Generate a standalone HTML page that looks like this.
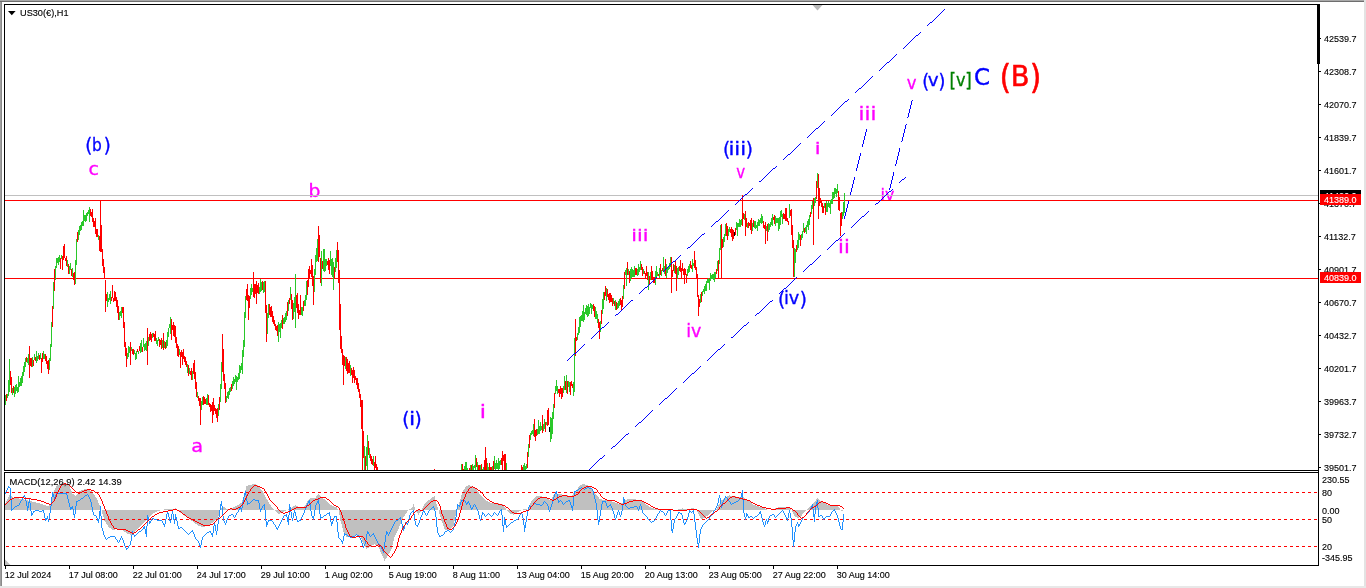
<!DOCTYPE html>
<html><head><meta charset="utf-8"><title>US30 H1</title>
<style>
html,body{margin:0;padding:0;background:#fff;overflow:hidden}
svg{display:block}
text{font-family:"Liberation Sans","DejaVu Sans",sans-serif}
.sm text{font-size:9px;fill:#000;stroke:#000;stroke-width:0.12px}
.lb text{font-family:"DejaVu Sans Condensed","DejaVu Sans","Liberation Sans",sans-serif}
</style></head>
<body>
<svg width="1366" height="588" viewBox="0 0 1366 588">
<rect width="1366" height="588" fill="#fff"/>
<!-- window edges -->
<g shape-rendering="crispEdges">
<rect x="0" y="0" width="1364" height="1" fill="#a9a9a9"/>
<rect x="0" y="1" width="1364" height="1" fill="#6e6e6e"/>
<rect x="0" y="2" width="1" height="584" fill="#a0a0a0"/>
<rect x="1" y="2" width="1" height="584" fill="#8a8a8a"/>
<rect x="1364" y="0" width="2" height="588" fill="#e3e3e3"/>
<rect x="0" y="586" width="1366" height="2" fill="#e8e8e8"/>
</g>
<defs>
<clipPath id="cm"><rect x="5" y="5" width="1313" height="465"/></clipPath>
<clipPath id="cd"><rect x="5" y="473" width="1313" height="92"/></clipPath>
</defs>
<!-- wave labels -->
<g class="lb">
<text x="0.00" y="0.00" font-size="19.34" fill="#0000ff" stroke="#0000ff" stroke-width="0.32" transform="translate(85.20 152.29) scale(1.034 1)">(</text>
<text x="0.00" y="0.00" font-size="16.96" fill="#0000ff" stroke="#0000ff" stroke-width="0.28" transform="translate(92.00 151.06) scale(1.012 1)">b</text>
<text x="0.00" y="0.00" font-size="19.34" fill="#0000ff" stroke="#0000ff" stroke-width="0.32" transform="translate(103.70 152.29) scale(1.034 1)">)</text>
<text x="0.00" y="0.00" font-size="16.95" fill="#ff00ff" stroke="#ff00ff" stroke-width="0.28" transform="translate(88.56 174.56) scale(1.238 1)">c</text>
<text x="0.00" y="0.00" font-size="16.84" fill="#ff00ff" stroke="#ff00ff" stroke-width="0.28" transform="translate(308.54 196.96) scale(1.240 1)">b</text>
<text x="0.00" y="0.00" font-size="17.97" fill="#ff00ff" stroke="#ff00ff" stroke-width="0.30" transform="translate(191.33 451.64) scale(1.191 1)">a</text>
<text x="0.00" y="0.00" font-size="19.89" fill="#0000ff" stroke="#0000ff" stroke-width="0.33" transform="translate(402.27 426.12) scale(1.028 1)">(</text>
<text x="0.00" y="0.00" font-size="17.82" fill="#0000ff" stroke="#0000ff" stroke-width="0.30" transform="translate(408.98 424.72) scale(1.400 1)">i</text>
<text x="0.00" y="0.00" font-size="19.89" fill="#0000ff" stroke="#0000ff" stroke-width="0.33" transform="translate(414.47 426.12) scale(1.028 1)">)</text>
<text x="0.00" y="0.00" font-size="17.82" fill="#ff00ff" stroke="#ff00ff" stroke-width="0.30" transform="translate(479.83 417.72) scale(1.400 1)">i</text>
<text x="0.00" y="0.00" font-size="16.67" fill="#ff00ff" stroke="#ff00ff" stroke-width="0.28" transform="translate(631.37 240.83) scale(1.373 1)">iii</text>
<text x="0.00" y="0.00" font-size="16.79" fill="#ff00ff" stroke="#ff00ff" stroke-width="0.28" transform="translate(686.25 337.43) scale(1.156 1)">iv</text>
<text x="0.00" y="0.00" font-size="20.00" fill="#0000ff" stroke="#0000ff" stroke-width="0.33" transform="translate(723.07 156.20) scale(1.023 1)">(</text>
<text x="0.00" y="0.00" font-size="17.56" fill="#0000ff" stroke="#0000ff" stroke-width="0.29" transform="translate(728.40 154.52) scale(1.351 1)">iii</text>
<text x="0.00" y="0.00" font-size="20.00" fill="#0000ff" stroke="#0000ff" stroke-width="0.33" transform="translate(745.67 156.20) scale(1.023 1)">)</text>
<text x="0.00" y="0.00" font-size="17.14" fill="#ff00ff" stroke="#ff00ff" stroke-width="0.29" transform="translate(736.17 178.43) scale(0.976 1)">v</text>
<text x="0.00" y="0.00" font-size="19.78" fill="#0000ff" stroke="#0000ff" stroke-width="0.33" transform="translate(778.07 306.13) scale(1.034 1)">(</text>
<text x="0.00" y="0.00" font-size="17.44" fill="#0000ff" stroke="#0000ff" stroke-width="0.29" transform="translate(783.92 304.43) scale(1.130 1)">iv</text>
<text x="0.00" y="0.00" font-size="19.78" fill="#0000ff" stroke="#0000ff" stroke-width="0.33" transform="translate(799.67 306.13) scale(1.034 1)">)</text>
<text x="0.00" y="0.00" font-size="16.67" fill="#ff00ff" stroke="#ff00ff" stroke-width="0.28" transform="translate(814.63 153.83) scale(1.400 1)">i</text>
<text x="0.00" y="0.00" font-size="17.56" fill="#ff00ff" stroke="#ff00ff" stroke-width="0.29" transform="translate(838.12 252.52) scale(1.340 1)">ii</text>
<text x="0.00" y="0.00" font-size="17.31" fill="#ff00ff" stroke="#ff00ff" stroke-width="0.29" transform="translate(858.60 120.33) scale(1.371 1)">iii</text>
<text x="0.00" y="0.00" font-size="16.67" fill="#ff00ff" stroke="#ff00ff" stroke-width="0.28" transform="translate(880.59 199.83) scale(1.059 1)">iv</text>
<text x="0.00" y="0.00" font-size="17.32" fill="#ff00ff" stroke="#ff00ff" stroke-width="0.29" transform="translate(906.73 89.43) scale(1.060 1)">v</text>
<text x="0.00" y="0.00" font-size="19.67" fill="#0000ff" stroke="#0000ff" stroke-width="0.33" transform="translate(922.13 87.95) scale(0.994 1)">(</text>
<text x="0.00" y="0.00" font-size="17.86" fill="#0000ff" stroke="#0000ff" stroke-width="0.30" transform="translate(927.79 86.12) scale(1.143 1)">v</text>
<text x="0.00" y="0.00" font-size="19.67" fill="#0000ff" stroke="#0000ff" stroke-width="0.33" transform="translate(938.53 87.95) scale(0.994 1)">)</text>
<text x="0.00" y="0.00" font-size="19.89" fill="#008000" stroke="#008000" stroke-width="0.33" transform="translate(949.50 87.02) scale(0.930 1)">[</text>
<text x="0.00" y="0.00" font-size="17.86" fill="#008000" stroke="#008000" stroke-width="0.30" transform="translate(955.94 85.52) scale(1.006 1)">v</text>
<text x="0.00" y="0.00" font-size="19.89" fill="#008000" stroke="#008000" stroke-width="0.33" transform="translate(965.22 87.02) scale(0.930 1)">]</text>
<text x="0.00" y="0.00" font-size="22.44" fill="#0000ff" stroke="#0000ff" stroke-width="0.37" transform="translate(973.98 85.25) scale(1.135 1)">C</text>
<text x="0.00" y="0.00" font-size="34.07" fill="#ff0000" stroke="#ff0000" stroke-width="0.57" transform="translate(999.77 89.13) scale(0.934 1)">(</text>
<text x="0.00" y="0.00" font-size="28.93" fill="#ff0000" stroke="#ff0000" stroke-width="0.48" transform="translate(1010.67 86.01) scale(1.051 1)">B</text>
<text x="0.00" y="0.00" font-size="34.07" fill="#ff0000" stroke="#ff0000" stroke-width="0.57" transform="translate(1030.09 89.13) scale(0.934 1)">)</text>
</g>
<!-- main chart content -->
<g clip-path="url(#cm)" shape-rendering="crispEdges">
<path d="M5 195.5H1318" stroke="#c0c0c0"/>
<path d="M5 200.5H1318M5 278.5H1318" stroke="#ff0000"/>
<path d="M5.5 395V405M7.5 394V398M8.5 380V396M9.5 359V392M12.5 388V395M14.5 387V397M15.5 385V394M16.5 384V391M17.5 387V393M18.5 376V392M19.5 382V387M20.5 378V386M21.5 376V386M22.5 372V383M23.5 366V376M24.5 362V372M25.5 358V367M27.5 358V363M28.5 354V365M32.5 357V367M34.5 354V360M36.5 351V363M37.5 356V361M38.5 353V359M40.5 353V359M43.5 351V359M44.5 354V359M49.5 358V370M50.5 344V361M51.5 322V347M53.5 282V309M55.5 266V280M56.5 258V268M57.5 258V263M58.5 257V265M59.5 255V262M61.5 255V259M67.5 260V267M69.5 266V274M70.5 263V270M72.5 268V277M75.5 260V284M76.5 239V265M78.5 230V240M79.5 226V235M80.5 225V231M81.5 222V230M82.5 221V226M83.5 210V226M84.5 215V221M85.5 215V222M86.5 213V221M87.5 212V216M88.5 210V214M89.5 207V222M98.5 235V240M107.5 292V307M108.5 298V302M109.5 294V300M110.5 291V304M119.5 312V320M120.5 311V316M121.5 307V318M127.5 353V359M128.5 346V357M129.5 347V353M131.5 347V351M134.5 350V354M135.5 353V360M136.5 351V359M138.5 351V354M140.5 343V353M141.5 340V352M143.5 338V347M144.5 344V351M145.5 343V350M146.5 341V351M148.5 337V346M152.5 333V338M156.5 338V344M157.5 340V346M158.5 337V341M162.5 340V348M164.5 341V348M166.5 340V348M167.5 332V346M168.5 328V337M169.5 324V328M170.5 317V334M179.5 349V355M187.5 364V373M189.5 368V374M192.5 371V380M197.5 392V398M201.5 401V410M202.5 397V405M206.5 398V405M207.5 394V405M218.5 404V416M220.5 384V402M221.5 362V389M226.5 396V402M227.5 392V398M228.5 391V399M229.5 388V395M230.5 387V392M232.5 381V389M233.5 377V386M234.5 379V384M235.5 375V382M236.5 376V390M237.5 377V382M238.5 373V380M239.5 365V379M240.5 366V373M241.5 363V370M242.5 350V374M243.5 340V357M244.5 312V347M245.5 296V318M250.5 288V299M251.5 284V295M252.5 288V292M259.5 287V294M260.5 279V292M261.5 282V291M263.5 282V293M264.5 281V292M267.5 313V334M268.5 304V318M278.5 322V342M279.5 324V332M280.5 323V338M281.5 320V328M283.5 318V324M284.5 317V324M285.5 313V322M286.5 311V320M288.5 300V311M290.5 287V300M293.5 303V319M294.5 297V312M295.5 274V328M301.5 307V315M302.5 307V316M304.5 300V306M305.5 295V306M306.5 281V300M314.5 269V292M315.5 255V275M316.5 248V262M317.5 239V261M321.5 251V286M323.5 249V271M324.5 249V272M325.5 259V271M326.5 259V266M330.5 251V266M331.5 259V275M332.5 258V277M333.5 262V290M335.5 258V272M336.5 250V268M345.5 357V369M350.5 365V376M364.5 446V470M366.5 447V466M367.5 435V470M369.5 448V458M373.5 456V466M461.5 464V470M464.5 466V470M465.5 462V470M466.5 462V470M467.5 468V470M470.5 465V470M472.5 464V470M473.5 466V470M474.5 465V468M475.5 455V470M477.5 462V470M480.5 465V470M482.5 469V470M483.5 467V470M487.5 463V470M488.5 467V470M492.5 466V470M494.5 456V469M495.5 463V470M496.5 460V469M497.5 463V469M498.5 458V470M499.5 461V469M500.5 460V465M506.5 463V470M523.5 465V470M524.5 463V470M525.5 466V470M526.5 464V469M528.5 444V457M530.5 433V440M531.5 431V435M532.5 430V434M533.5 424V436M537.5 429V435M538.5 420V434M539.5 426V434M540.5 422V431M541.5 426V430M543.5 424V431M544.5 419V429M546.5 422V425M550.5 417V442M551.5 418V439M552.5 412V434M553.5 404V419M555.5 386V394M556.5 380V391M557.5 386V394M563.5 386V393M564.5 376V390M566.5 375V393M568.5 381V387M569.5 382V392M573.5 382V396M574.5 338V392M577.5 333V340M578.5 327V335M579.5 317V333M580.5 316V327M581.5 315V321M582.5 311V321M583.5 305V322M584.5 312V320M585.5 308V314M586.5 305V315M587.5 306V317M588.5 304V316M589.5 307V314M590.5 303V308M591.5 304V314M592.5 305V309M595.5 307V319M596.5 311V319M597.5 314V323M600.5 321V332M602.5 299V314M603.5 292V309M606.5 288V301M613.5 298V304M615.5 300V310M617.5 303V309M618.5 301V308M619.5 299V306M623.5 285V299M625.5 270V275M626.5 268V286M628.5 269V275M630.5 269V281M631.5 267V278M632.5 269V277M633.5 270V277M634.5 266V277M637.5 269V276M638.5 264V275M639.5 267V272M640.5 261V270M643.5 269V274M648.5 272V290M650.5 272V280M655.5 271V285M656.5 266V277M657.5 272V276M659.5 268V278M661.5 270V276M663.5 257V272M664.5 266V274M666.5 264V278M667.5 267V273M668.5 266V270M669.5 263V269M670.5 257V267M674.5 265V273M677.5 268V279M678.5 267V275M687.5 269V276M688.5 266V273M689.5 264V272M692.5 259V272M693.5 263V266M700.5 294V303M702.5 291V296M703.5 289V292M704.5 286V294M705.5 284V291M706.5 281V291M707.5 279V283M708.5 278V283M709.5 279V290M710.5 273V281M711.5 275V279M712.5 274V279M713.5 274V280M714.5 272V282M715.5 272V278M717.5 261V271M719.5 248V264M720.5 225V250M723.5 237V247M724.5 234V242M725.5 224V236M728.5 229V236M729.5 227V232M736.5 222V230M737.5 223V236M738.5 223V227M739.5 219V227M740.5 220V227M741.5 219V225M744.5 214V220M747.5 223V228M752.5 223V231M754.5 221V228M755.5 221V229M756.5 225V228M757.5 222V231M758.5 219V226M759.5 220V226M760.5 218V223M761.5 214V224M762.5 216V223M766.5 226V231M768.5 223V232M769.5 224V230M770.5 222V227M771.5 218V225M772.5 214V226M775.5 216V226M776.5 218V223M777.5 218V223M778.5 218V231M779.5 217V229M780.5 211V225M781.5 210V217M782.5 214V224M789.5 204V218M794.5 248V277M795.5 249V263M797.5 240V250M798.5 232V248M799.5 234V240M801.5 234V240M802.5 231V238M803.5 223V232M805.5 227V232M806.5 225V234M807.5 221V227M808.5 219V230M809.5 215V225M811.5 205V214M812.5 201V209M814.5 198V206M815.5 197V203M817.5 173V188M824.5 203V208M826.5 201V212M827.5 203V212M828.5 201V207M829.5 203V208M830.5 200V214M831.5 199V204M832.5 192V204M833.5 192V199M834.5 188V198M835.5 188V194M836.5 189V197M837.5 184V193M842.5 212V219M843.5 202V216M844.5 193V213" stroke="#2ac82a" stroke-width="1" fill="none"/>
<path d="M6.5 394V401M10.5 371V385M11.5 377V393M13.5 386V393M26.5 357V362M29.5 346V378M30.5 358V366M31.5 358V367M33.5 360V366M35.5 357V361M39.5 355V360M41.5 358V373M42.5 353V362M45.5 354V361M46.5 356V364M47.5 361V369M48.5 360V374M52.5 306V327M54.5 269V291M60.5 258V269M62.5 256V270M63.5 246V260M64.5 244V258M65.5 258V261M66.5 256V266M68.5 264V274M71.5 269V276M73.5 273V280M74.5 272V285M77.5 232V242M90.5 209V216M91.5 212V217M92.5 209V222M93.5 218V227M94.5 221V227M95.5 218V234M96.5 229V237M97.5 229V237M99.5 236V251M100.5 200V252M101.5 225V252M102.5 249V266M103.5 259V273M104.5 267V279M105.5 280V312M106.5 294V301M111.5 297V301M112.5 285V298M113.5 298V302M114.5 291V301M115.5 292V301M116.5 297V307M117.5 300V313M118.5 306V320M122.5 307V313M123.5 307V328M124.5 322V347M125.5 342V356M126.5 348V367M130.5 342V365M132.5 349V354M133.5 349V355M137.5 349V352M139.5 346V351M142.5 347V352M147.5 328V365M149.5 334V341M150.5 332V340M151.5 334V342M153.5 333V337M154.5 334V341M155.5 331V341M159.5 339V347M160.5 340V345M161.5 338V349M163.5 333V350M165.5 342V349M171.5 319V340M172.5 325V330M173.5 322V336M174.5 325V337M175.5 326V343M176.5 337V348M177.5 344V356M178.5 346V357M180.5 352V368M181.5 350V357M182.5 352V365M183.5 349V359M184.5 356V362M185.5 357V365M186.5 361V367M188.5 365V376M190.5 371V375M191.5 368V380M193.5 363V374M194.5 360V379M195.5 372V389M196.5 382V397M198.5 396V401M199.5 398V406M200.5 398V425M203.5 396V405M204.5 397V404M205.5 399V404M208.5 395V405M209.5 403V407M210.5 404V412M211.5 405V411M212.5 402V423M213.5 398V415M214.5 405V411M215.5 408V414M216.5 409V418M217.5 408V422M219.5 397V410M222.5 334V372M223.5 349V381M224.5 374V389M225.5 383V403M231.5 384V391M246.5 289V300M247.5 284V301M248.5 295V320M249.5 296V308M253.5 272V297M254.5 284V298M255.5 284V294M256.5 281V304M257.5 285V293M258.5 283V294M262.5 281V290M265.5 281V313M266.5 305V342M269.5 304V315M270.5 307V317M271.5 306V317M272.5 311V322M273.5 316V324M274.5 320V326M275.5 324V330M276.5 326V331M277.5 325V336M282.5 315V329M287.5 302V316M289.5 298V304M291.5 294V309M292.5 300V320M296.5 295V308M297.5 293V313M298.5 304V319M299.5 310V315M300.5 295V315M303.5 301V311M307.5 280V295M308.5 269V287M309.5 266V278M310.5 270V274M311.5 259V277M312.5 265V286M313.5 276V305M318.5 226V262M319.5 235V257M320.5 258V283M322.5 261V269M327.5 261V265M328.5 258V270M329.5 260V274M334.5 267V279M337.5 242V262M338.5 250V283M339.5 270V330M340.5 304V349M341.5 336V353M342.5 349V365M343.5 355V385M344.5 356V366M346.5 357V371M347.5 359V374M348.5 363V373M349.5 361V373M351.5 368V375M352.5 370V383M353.5 367V378M354.5 370V383M355.5 376V380M356.5 378V385M357.5 378V389M358.5 383V392M359.5 389V398M360.5 394V407M361.5 400V429M362.5 400V470M363.5 431V458M365.5 456V470M368.5 441V455M370.5 454V461M371.5 456V464M372.5 459V465M374.5 462V470M375.5 456V468M376.5 464V470M377.5 467V470M434.5 469V470M462.5 464V470M463.5 469V470M469.5 468V470M471.5 465V470M476.5 458V467M478.5 465V470M479.5 465V470M481.5 464V470M484.5 460V470M485.5 447V470M486.5 458V470M489.5 463V470M490.5 467V470M491.5 467V470M493.5 461V470M501.5 458V465M502.5 451V470M503.5 455V461M504.5 454V470M505.5 454V470M521.5 465V470M522.5 467V470M527.5 452V468M529.5 435V448M534.5 419V437M535.5 430V441M536.5 429V436M542.5 415V433M545.5 422V432M547.5 410V426M548.5 408V425M554.5 393V408M558.5 389V393M559.5 389V397M560.5 386V394M561.5 388V399M562.5 388V397M565.5 381V390M567.5 381V394M570.5 382V395M571.5 381V386M572.5 384V388M575.5 319V356M576.5 337V341M593.5 304V311M594.5 306V317M598.5 319V328M599.5 322V339M601.5 310V324M604.5 292V300M605.5 286V296M607.5 289V297M608.5 294V300M609.5 293V303M610.5 293V302M611.5 295V302M612.5 298V306M614.5 301V306M616.5 302V310M620.5 298V305M621.5 300V310M622.5 296V307M624.5 272V289M627.5 262V275M629.5 271V283M635.5 268V275M636.5 268V275M641.5 264V270M642.5 267V276M644.5 271V274M645.5 273V279M646.5 266V276M647.5 272V280M649.5 276V284M651.5 266V280M652.5 271V280M653.5 277V283M654.5 277V283M658.5 274V276M660.5 264V275M662.5 268V271M665.5 259V276M671.5 257V293M672.5 270V277M673.5 264V271M675.5 260V274M676.5 266V291M679.5 266V271M680.5 260V272M681.5 268V279M682.5 263V271M683.5 269V275M684.5 268V284M685.5 269V275M686.5 274V283M690.5 261V268M691.5 265V269M694.5 251V268M695.5 260V270M696.5 267V278M697.5 274V297M698.5 295V316M699.5 299V307M701.5 292V302M716.5 269V274M718.5 260V279M721.5 224V279M722.5 239V248M726.5 223V236M727.5 226V240M730.5 229V233M731.5 227V237M732.5 229V241M733.5 230V239M735.5 228V235M742.5 195V226M743.5 213V219M745.5 211V236M746.5 218V227M748.5 222V228M749.5 223V226M750.5 220V230M751.5 218V234M753.5 220V227M763.5 221V228M764.5 225V229M765.5 222V244M767.5 224V241M773.5 217V220M774.5 215V224M783.5 213V219M784.5 214V219M785.5 208V221M786.5 208V221M787.5 218V222M788.5 221V225M790.5 210V216M791.5 209V235M792.5 225V248M793.5 240V277M796.5 245V252M800.5 235V246M804.5 228V233M810.5 212V217M813.5 198V245M816.5 181V199M818.5 174V219M819.5 188V206M820.5 198V203M821.5 201V207M822.5 203V213M823.5 206V213M825.5 203V215M838.5 191V210M839.5 197V211M840.5 213V236M841.5 212V226" stroke="#ff0000" stroke-width="1" fill="none"/>
<path d="M549.5 427V432M734.5 232V236" stroke="#000000" stroke-width="1" fill="none"/>

<path d="M812.5 5H822.5L817.5 10.5Z" fill="#b9b9b9" shape-rendering="auto"/>
<g stroke="#0000ff" stroke-width="1" fill="none">
<path d="M944 9.5h1M943 10.5h1M942 11.5h1M941 12.5h1M940 13.5h1M939 14.5h1M938 15.5h1M937 16.5h1M936 17.5h1M935 18.5h1M934 19.5h1M933 20.5h1M932 21.5h1M930 22.5h2M929 23.5h1M928 24.5h1M927 25.5h1M920 32.5h1M919 33.5h1M918 34.5h1M916 35.5h2M915 36.5h1M914 37.5h1M913 38.5h1M912 39.5h1M911 40.5h1M910 41.5h1M909 42.5h1M908 43.5h1M907 44.5h1M906 45.5h1M905 46.5h1M904 47.5h1M903 48.5h1M896 54.5h1M895 55.5h1M894 56.5h1M893 57.5h1M892 58.5h1M891 59.5h1M890 60.5h1M889 61.5h1M887 62.5h2M886 63.5h1M885 64.5h1M884 65.5h1M883 66.5h1M882 67.5h1M881 68.5h1M880 69.5h1M879 70.5h1M872 76.5h1M871 77.5h1M870 78.5h1M869 79.5h1M868 80.5h1M867 81.5h1M866 82.5h1M865 83.5h1M864 84.5h1M863 85.5h1M862 86.5h1M861 87.5h1M859 88.5h2M858 89.5h1M857 90.5h1M856 91.5h1M855 92.5h1M848 99.5h1M847 100.5h1M845 101.5h2M844 102.5h1M843 103.5h1M842 104.5h1M841 105.5h1M840 106.5h1M839 107.5h1M838 108.5h1M837 109.5h1M836 110.5h1M835 111.5h1M834 112.5h1M833 113.5h1M832 114.5h1M831 115.5h1M824 121.5h1M823 122.5h1M822 123.5h1M821 124.5h1M820 125.5h1M819 126.5h1M818 127.5h1M816 128.5h2M815 129.5h1M814 130.5h1M813 131.5h1M812 132.5h1M811 133.5h1M810 134.5h1M809 135.5h1M808 136.5h1M807 137.5h1M800 143.5h1M799 144.5h1M798 145.5h1M797 146.5h1M796 147.5h1M795 148.5h1M794 149.5h1M793 150.5h1M792 151.5h1M791 152.5h1M790 153.5h1M788 154.5h2M787 155.5h1M786 156.5h1M785 157.5h1M784 158.5h1M783 159.5h1M776 166.5h1M775 167.5h1M773 168.5h2M772 169.5h1M771 170.5h1M770 171.5h1M769 172.5h1M768 173.5h1M767 174.5h1M766 175.5h1M765 176.5h1M764 177.5h1M763 178.5h1M762 179.5h1M761 180.5h1M759 181.5h2M752 188.5h1M751 189.5h1M750 190.5h1M749 191.5h1M748 192.5h1M747 193.5h1M745 194.5h2M744 195.5h1M743 196.5h1M742 197.5h1M741 198.5h1M740 199.5h1M739 200.5h1M738 201.5h1M737 202.5h1M736 203.5h1M735 204.5h1M728 210.5h1M727 211.5h1M726 212.5h1M725 213.5h1M724 214.5h1M723 215.5h1M722 216.5h1M721 217.5h1M720 218.5h1M719 219.5h1M718 220.5h1M716 221.5h2M715 222.5h1M714 223.5h1M713 224.5h1M712 225.5h1M711 226.5h1M704 233.5h1M702 234.5h2M701 235.5h1M700 236.5h1M699 237.5h1M698 238.5h1M697 239.5h1M696 240.5h1M695 241.5h1M694 242.5h1M693 243.5h1M692 244.5h1M691 245.5h1M690 246.5h1M688 247.5h2M687 248.5h1M680 255.5h1M679 256.5h1M678 257.5h1M677 258.5h1M676 259.5h1M675 260.5h1M673 261.5h2M672 262.5h1M671 263.5h1M670 264.5h1M669 265.5h1M668 266.5h1M667 267.5h1M666 268.5h1M665 269.5h1M664 270.5h1M663 271.5h1M656 277.5h1M655 278.5h1M654 279.5h1M653 280.5h1M652 281.5h1M651 282.5h1M650 283.5h1M649 284.5h1M648 285.5h1M647 286.5h1M645 287.5h2M644 288.5h1M643 289.5h1M642 290.5h1M641 291.5h1M640 292.5h1M639 293.5h1M631 300.5h2M630 301.5h1M629 302.5h1M628 303.5h1M627 304.5h1M626 305.5h1M625 306.5h1M624 307.5h1M623 308.5h1M622 309.5h1M621 310.5h1M620 311.5h1M619 312.5h1M618 313.5h1M616 314.5h2M615 315.5h1M608 322.5h1M607 323.5h1M606 324.5h1M605 325.5h1M604 326.5h1M602 327.5h2M601 328.5h1M600 329.5h1M599 330.5h1M598 331.5h1M597 332.5h1M596 333.5h1M595 334.5h1M594 335.5h1M593 336.5h1M592 337.5h1M591 338.5h1M584 344.5h1M583 345.5h1M582 346.5h1M581 347.5h1M580 348.5h1M579 349.5h1M578 350.5h1M577 351.5h1M576 352.5h1M574 353.5h2M573 354.5h1M572 355.5h1M571 356.5h1M570 357.5h1M569 358.5h1M568 359.5h1M567 360.5h1"/>
<path d="M905 177.5h1M904 178.5h1M902 179.5h2M901 180.5h1M900 181.5h1M899 182.5h1M892 189.5h1M891 190.5h1M889 191.5h2M888 192.5h1M887 193.5h1M886 194.5h1M885 195.5h1M884 196.5h1M883 197.5h1M882 198.5h1M881 199.5h1M880 200.5h1M879 201.5h1M878 202.5h1M876 203.5h2M875 204.5h1M868 211.5h1M867 212.5h1M866 213.5h1M865 214.5h1M864 215.5h1M862 216.5h2M861 217.5h1M860 218.5h1M859 219.5h1M858 220.5h1M857 221.5h1M856 222.5h1M855 223.5h1M854 224.5h1M853 225.5h1M852 226.5h1M851 227.5h1M844 233.5h1M843 234.5h1M842 235.5h1M841 236.5h1M840 237.5h1M839 238.5h1M838 239.5h1M836 240.5h2M835 241.5h1M834 242.5h1M833 243.5h1M832 244.5h1M831 245.5h1M830 246.5h1M829 247.5h1M828 248.5h1M827 249.5h1M820 255.5h1M819 256.5h1M818 257.5h1M817 258.5h1M816 259.5h1M815 260.5h1M814 261.5h1M813 262.5h1M812 263.5h1M810 264.5h2M809 265.5h1M808 266.5h1M807 267.5h1M806 268.5h1M805 269.5h1M804 270.5h1M803 271.5h1M796 277.5h1M795 278.5h1M794 279.5h1M793 280.5h1M792 281.5h1M791 282.5h1M790 283.5h1M789 284.5h1M788 285.5h1M787 286.5h1M786 287.5h1M784 288.5h2M783 289.5h1M782 290.5h1M781 291.5h1M780 292.5h1M779 293.5h1M772 300.5h1M770 301.5h2M769 302.5h1M768 303.5h1M767 304.5h1M766 305.5h1M765 306.5h1M764 307.5h1M763 308.5h1M762 309.5h1M761 310.5h1M760 311.5h1M759 312.5h1M757 313.5h2M756 314.5h1M755 315.5h1M748 322.5h1M747 323.5h1M746 324.5h1M744 325.5h2M743 326.5h1M742 327.5h1M741 328.5h1M740 329.5h1M739 330.5h1M738 331.5h1M737 332.5h1M736 333.5h1M735 334.5h1M734 335.5h1M733 336.5h1M731 337.5h2M724 344.5h1M723 345.5h1M722 346.5h1M721 347.5h1M720 348.5h1M718 349.5h2M717 350.5h1M716 351.5h1M715 352.5h1M714 353.5h1M713 354.5h1M712 355.5h1M711 356.5h1M710 357.5h1M709 358.5h1M708 359.5h1M707 360.5h1M700 366.5h1M699 367.5h1M698 368.5h1M697 369.5h1M696 370.5h1M695 371.5h1M694 372.5h1M692 373.5h2M691 374.5h1M690 375.5h1M689 376.5h1M688 377.5h1M687 378.5h1M686 379.5h1M685 380.5h1M684 381.5h1M683 382.5h1M676 388.5h1M675 389.5h1M674 390.5h1M673 391.5h1M672 392.5h1M671 393.5h1M670 394.5h1M669 395.5h1M668 396.5h1M667 397.5h1M665 398.5h2M664 399.5h1M663 400.5h1M662 401.5h1M661 402.5h1M660 403.5h1M659 404.5h1M652 410.5h1M651 411.5h1M650 412.5h1M649 413.5h1M648 414.5h1M647 415.5h1M646 416.5h1M645 417.5h1M644 418.5h1M643 419.5h1M642 420.5h1M641 421.5h1M639 422.5h2M638 423.5h1M637 424.5h1M636 425.5h1M635 426.5h1M628 433.5h1M626 434.5h2M625 435.5h1M624 436.5h1M623 437.5h1M622 438.5h1M621 439.5h1M620 440.5h1M619 441.5h1M618 442.5h1M617 443.5h1M616 444.5h1M615 445.5h1M613 446.5h2M612 447.5h1M611 448.5h1M604 455.5h1M603 456.5h1M602 457.5h1M600 458.5h2M599 459.5h1M598 460.5h1M597 461.5h1M596 462.5h1M595 463.5h1M594 464.5h1M593 465.5h1M592 466.5h1M591 467.5h1M590 468.5h1M589 469.5h1M587 470.5h2"/>
<path d="M844.5 216v3M845.5 212v4M846.5 208v4M847.5 204v4M848.5 201v3M850.5 192v3M851.5 188v4M852.5 184v4M853.5 180v4M854.5 177v3M856.5 168v3M857.5 164v4M858.5 160v4M859.5 156v4M860.5 153v3M862.5 144v3M863.5 140v4M864.5 136v4M865.5 132v4M866.5 129v3"/>
<path d="M889.5 188v2M890.5 184v4M891.5 180v4M892.5 176v4M893.5 172v4M895.5 164v2M896.5 160v4M897.5 156v4M898.5 152v4M899.5 148v4M901.5 141v1M902.5 137v4M903.5 133v4M904.5 129v4M905.5 125v4M906.5 124v1M907.5 117v1M908.5 113v4M909.5 109v4M910.5 105v4M911.5 101v4M912.5 100v1"/>
</g>
</g>
<!-- MACD panel -->
<g clip-path="url(#cd)">
<path d="M5 510 L5 502.8 L6 502.8 L6 500.9 L7 500.9 L7 498.9 L8 498.9 L8 496.9 L9 496.9 L9 495.0 L10 495.0 L10 495.7 L11 495.7 L11 496.4 L12 496.4 L12 497.1 L13 497.1 L13 497.8 L14 497.8 L14 497.9 L15 497.9 L15 498.0 L16 498.0 L16 498.1 L17 498.1 L17 498.3 L18 498.3 L18 498.4 L19 498.4 L19 498.5 L20 498.5 L20 498.6 L21 498.6 L21 498.8 L22 498.8 L22 499.1 L23 499.1 L23 499.3 L24 499.3 L24 499.6 L25 499.6 L25 499.8 L26 499.8 L26 500.0 L27 500.0 L27 500.3 L28 500.3 L28 500.5 L29 500.5 L29 500.8 L30 500.8 L30 501.0 L31 501.0 L31 501.3 L32 501.3 L32 501.5 L33 501.5 L33 501.8 L34 501.8 L34 502.1 L35 502.1 L35 502.4 L36 502.4 L36 502.6 L37 502.6 L37 502.9 L38 502.9 L38 503.2 L39 503.2 L39 503.4 L40 503.4 L40 503.7 L41 503.7 L41 504.0 L42 504.0 L42 504.4 L43 504.4 L43 504.7 L44 504.7 L44 505.0 L45 505.0 L45 505.3 L46 505.3 L46 505.7 L47 505.7 L47 506.0 L48 506.0 L48 505.7 L49 505.7 L49 505.3 L50 505.3 L50 505.0 L51 505.0 L51 500.7 L52 500.7 L52 496.3 L53 496.3 L53 492.0 L54 492.0 L54 490.0 L55 490.0 L55 488.0 L56 488.0 L56 486.0 L57 486.0 L57 485.4 L58 485.4 L58 484.9 L59 484.9 L59 484.3 L60 484.3 L60 483.7 L61 483.7 L61 483.2 L62 483.2 L62 482.6 L63 482.6 L63 482.8 L64 482.8 L64 483.1 L65 483.1 L65 483.3 L66 483.3 L66 483.5 L67 483.5 L67 483.8 L68 483.8 L68 484.0 L69 484.0 L69 486.4 L70 486.4 L70 488.8 L71 488.8 L71 491.1 L72 491.1 L72 493.5 L73 493.5 L73 494.3 L74 494.3 L74 495.2 L75 495.2 L75 496.0 L76 496.0 L76 494.8 L77 494.8 L77 493.5 L78 493.5 L78 492.2 L79 492.2 L79 491.0 L80 491.0 L80 490.6 L81 490.6 L81 490.3 L82 490.3 L82 489.9 L83 489.9 L83 489.6 L84 489.6 L84 489.2 L85 489.2 L85 488.9 L86 488.9 L86 488.5 L87 488.5 L87 489.1 L88 489.1 L88 489.7 L89 489.7 L89 490.2 L90 490.2 L90 490.8 L91 490.8 L91 491.4 L92 491.4 L92 492.0 L93 492.0 L93 493.6 L94 493.6 L94 495.2 L95 495.2 L95 496.8 L96 496.8 L96 498.4 L97 498.4 L97 500.0 L98 500.0 L98 502.5 L99 502.5 L99 505.0 L100 505.0 L100 507.5 L101 507.5 L101 510.0 L102 510.0 L102 513.5 L103 513.5 L103 517.0 L104 517.0 L104 520.5 L105 520.5 L105 522.1 L106 522.1 L106 523.8 L107 523.8 L107 525.4 L108 525.4 L108 527.0 L109 527.0 L109 527.7 L110 527.7 L110 528.4 L111 528.4 L111 529.1 L112 529.1 L112 529.8 L113 529.8 L113 529.7 L114 529.7 L114 529.5 L115 529.5 L115 529.4 L116 529.4 L116 529.3 L117 529.3 L117 529.1 L118 529.1 L118 529.0 L119 529.0 L119 529.3 L120 529.3 L120 529.6 L121 529.6 L121 530.0 L122 530.0 L122 530.3 L123 530.3 L123 530.6 L124 530.6 L124 531.5 L125 531.5 L125 532.3 L126 532.3 L126 533.1 L127 533.1 L127 534.0 L128 534.0 L128 534.2 L129 534.2 L129 534.4 L130 534.4 L130 534.6 L131 534.6 L131 534.8 L132 534.8 L132 533.9 L133 533.9 L133 533.1 L134 533.1 L134 532.2 L135 532.2 L135 531.4 L136 531.4 L136 530.4 L137 530.4 L137 529.4 L138 529.4 L138 528.4 L139 528.4 L139 527.4 L140 527.4 L140 526.4 L141 526.4 L141 525.4 L142 525.4 L142 524.4 L143 524.4 L143 523.3 L144 523.3 L144 522.3 L145 522.3 L145 521.3 L146 521.3 L146 520.1 L147 520.1 L147 519.0 L148 519.0 L148 517.8 L149 517.8 L149 516.7 L150 516.7 L150 515.5 L151 515.5 L151 514.8 L152 514.8 L152 514.1 L153 514.1 L153 513.4 L154 513.4 L154 512.7 L155 512.7 L155 512.0 L156 512.0 L156 511.7 L157 511.7 L157 511.4 L158 511.4 L158 511.0 L159 511.0 L159 510.7 L160 510.7 L160 510.4 L161 510.4 L161 510.1 L162 510.1 L162 509.8 L163 509.8 L163 509.6 L164 509.6 L164 509.3 L165 509.3 L165 509.0 L166 509.0 L166 508.9 L167 508.9 L167 508.9 L168 508.9 L168 508.8 L169 508.8 L169 508.8 L170 508.8 L170 508.7 L171 508.7 L171 508.6 L172 508.6 L172 508.6 L173 508.6 L173 508.5 L174 508.5 L174 508.5 L175 508.5 L175 508.4 L176 508.4 L176 509.3 L177 509.3 L177 510.3 L178 510.3 L178 511.2 L179 511.2 L179 511.9 L180 511.9 L180 512.7 L181 512.7 L181 513.4 L182 513.4 L182 514.1 L183 514.1 L183 514.8 L184 514.8 L184 515.6 L185 515.6 L185 516.3 L186 516.3 L186 517.0 L187 517.0 L187 517.7 L188 517.7 L188 518.4 L189 518.4 L189 519.2 L190 519.2 L190 519.9 L191 519.9 L191 520.6 L192 520.6 L192 521.3 L193 521.3 L193 522.0 L194 522.0 L194 522.7 L195 522.7 L195 523.5 L196 523.5 L196 524.2 L197 524.2 L197 524.9 L198 524.9 L198 525.6 L199 525.6 L199 526.0 L200 526.0 L200 526.3 L201 526.3 L201 526.6 L202 526.6 L202 527.0 L203 527.0 L203 526.8 L204 526.8 L204 526.5 L205 526.5 L205 526.3 L206 526.3 L206 526.1 L207 526.1 L207 525.8 L208 525.8 L208 525.6 L209 525.6 L209 524.9 L210 524.9 L210 524.2 L211 524.2 L211 523.4 L212 523.4 L212 522.7 L213 522.7 L213 522.0 L214 522.0 L214 521.2 L215 521.2 L215 520.4 L216 520.4 L216 519.6 L217 519.6 L217 518.8 L218 518.8 L218 515.9 L219 515.9 L219 512.9 L220 512.9 L220 510.0 L221 510.0 L221 508.0 L222 508.0 L222 506.0 L223 506.0 L223 506.7 L224 506.7 L224 507.4 L225 507.4 L225 508.0 L226 508.0 L226 508.7 L227 508.7 L227 509.1 L228 509.1 L228 509.5 L229 509.5 L229 508.9 L230 508.9 L230 508.4 L231 508.4 L231 508.0 L232 508.0 L232 507.6 L233 507.6 L233 507.2 L234 507.2 L234 506.8 L235 506.8 L235 506.4 L236 506.4 L236 506.0 L237 506.0 L237 505.4 L238 505.4 L238 504.7 L239 504.7 L239 504.1 L240 504.1 L240 503.4 L241 503.4 L241 502.8 L242 502.8 L242 499.7 L243 499.7 L243 496.7 L244 496.7 L244 493.6 L245 493.6 L245 489.8 L246 489.8 L246 486.0 L247 486.0 L247 485.7 L248 485.7 L248 485.4 L249 485.4 L249 485.1 L250 485.1 L250 484.8 L251 484.8 L251 484.6 L252 484.6 L252 484.3 L253 484.3 L253 484.1 L254 484.1 L254 483.8 L255 483.8 L255 484.4 L256 484.4 L256 484.9 L257 484.9 L257 485.4 L258 485.4 L258 486.0 L259 486.0 L259 487.2 L260 487.2 L260 488.5 L261 488.5 L261 489.8 L262 489.8 L262 491.0 L263 491.0 L263 492.9 L264 492.9 L264 494.8 L265 494.8 L265 496.7 L266 496.7 L266 498.6 L267 498.6 L267 500.3 L268 500.3 L268 502.0 L269 502.0 L269 503.7 L270 503.7 L270 505.4 L271 505.4 L271 506.5 L272 506.5 L272 507.7 L273 507.7 L273 508.9 L274 508.9 L274 510.0 L275 510.0 L275 511.0 L276 511.0 L276 512.0 L277 512.0 L277 513.0 L278 513.0 L278 514.0 L279 514.0 L279 513.5 L280 513.5 L280 513.0 L281 513.0 L281 512.5 L282 512.5 L282 512.0 L283 512.0 L283 511.5 L284 511.5 L284 511.0 L285 511.0 L285 510.5 L286 510.5 L286 510.0 L287 510.0 L287 509.5 L288 509.5 L288 509.0 L289 509.0 L289 508.5 L290 508.5 L290 508.0 L291 508.0 L291 507.5 L292 507.5 L292 507.0 L293 507.0 L293 506.4 L294 506.4 L294 505.9 L295 505.9 L295 505.4 L296 505.4 L296 505.8 L297 505.8 L297 506.2 L298 506.2 L298 506.6 L299 506.6 L299 507.0 L300 507.0 L300 507.4 L301 507.4 L301 507.1 L302 507.1 L302 506.8 L303 506.8 L303 506.5 L304 506.5 L304 506.2 L305 506.2 L305 504.5 L306 504.5 L306 502.9 L307 502.9 L307 501.2 L308 501.2 L308 499.5 L309 499.5 L309 498.9 L310 498.9 L310 498.4 L311 498.4 L311 497.8 L312 497.8 L312 497.8 L313 497.8 L313 497.8 L314 497.8 L314 497.8 L315 497.8 L315 497.8 L316 497.8 L316 496.4 L317 496.4 L317 495.0 L318 495.0 L318 493.6 L319 493.6 L319 494.7 L320 494.7 L320 495.9 L321 495.9 L321 497.0 L322 497.0 L322 497.8 L323 497.8 L323 498.6 L324 498.6 L324 499.4 L325 499.4 L325 500.2 L326 500.2 L326 501.0 L327 501.0 L327 501.9 L328 501.9 L328 502.8 L329 502.8 L329 503.6 L330 503.6 L330 504.5 L331 504.5 L331 505.4 L332 505.4 L332 505.8 L333 505.8 L333 506.2 L334 506.2 L334 506.6 L335 506.6 L335 507.0 L336 507.0 L336 507.4 L337 507.4 L337 508.7 L338 508.7 L338 510.0 L339 510.0 L339 515.2 L340 515.2 L340 520.5 L341 520.5 L341 524.4 L342 524.4 L342 528.4 L343 528.4 L343 532.3 L344 532.3 L344 533.7 L345 533.7 L345 535.1 L346 535.1 L346 536.5 L347 536.5 L347 536.7 L348 536.7 L348 536.9 L349 536.9 L349 537.1 L350 537.1 L350 537.3 L351 537.3 L351 536.9 L352 536.9 L352 536.5 L353 536.5 L353 536.0 L354 536.0 L354 535.6 L355 535.6 L355 535.2 L356 535.2 L356 534.8 L357 534.8 L357 535.2 L358 535.2 L358 535.6 L359 535.6 L359 536.1 L360 536.1 L360 536.5 L361 536.5 L361 539.0 L362 539.0 L362 541.5 L363 541.5 L363 544.0 L364 544.0 L364 545.6 L365 545.6 L365 547.2 L366 547.2 L366 548.8 L367 548.8 L367 548.2 L368 548.2 L368 547.7 L369 547.7 L369 547.1 L370 547.1 L370 546.6 L371 546.6 L371 546.0 L372 546.0 L372 545.3 L373 545.3 L373 544.6 L374 544.6 L374 544.0 L375 544.0 L375 544.6 L376 544.6 L376 545.3 L377 545.3 L377 546.0 L378 546.0 L378 546.6 L379 546.6 L379 549.1 L380 549.1 L380 551.5 L381 551.5 L381 554.0 L382 554.0 L382 556.2 L383 556.2 L383 558.4 L384 558.4 L384 560.6 L385 560.6 L385 559.0 L386 559.0 L386 557.5 L387 557.5 L387 555.9 L388 555.9 L388 554.2 L389 554.2 L389 552.5 L390 552.5 L390 550.7 L391 550.7 L391 549.0 L392 549.0 L392 545.1 L393 545.1 L393 541.2 L394 541.2 L394 537.3 L395 537.3 L395 535.2 L396 535.2 L396 533.1 L397 533.1 L397 531.1 L398 531.1 L398 529.0 L399 529.0 L399 526.4 L400 526.4 L400 523.9 L401 523.9 L401 521.3 L402 521.3 L402 519.4 L403 519.4 L403 517.4 L404 517.4 L404 515.5 L405 515.5 L405 514.1 L406 514.1 L406 512.8 L407 512.8 L407 511.4 L408 511.4 L408 510.0 L409 510.0 L409 509.2 L410 509.2 L410 508.5 L411 508.5 L411 507.8 L412 507.8 L412 507.0 L413 507.0 L413 503.7 L414 503.7 L414 506.9 L415 506.9 L415 510.0 L416 510.0 L416 511.5 L417 511.5 L417 513.1 L418 513.1 L418 514.6 L419 514.6 L419 513.1 L420 513.1 L420 511.5 L421 511.5 L421 510.0 L422 510.0 L422 507.9 L423 507.9 L423 505.8 L424 505.8 L424 503.7 L425 503.7 L425 502.9 L426 502.9 L426 502.0 L427 502.0 L427 501.1 L428 501.1 L428 500.3 L429 500.3 L429 499.5 L430 499.5 L430 498.6 L431 498.6 L431 497.8 L432 497.8 L432 497.2 L433 497.2 L433 496.6 L434 496.6 L434 496.0 L435 496.0 L435 499.9 L436 499.9 L436 503.7 L437 503.7 L437 506.9 L438 506.9 L438 510.0 L439 510.0 L439 513.5 L440 513.5 L440 517.0 L441 517.0 L441 520.5 L442 520.5 L442 523.3 L443 523.3 L443 526.2 L444 526.2 L444 529.0 L445 529.0 L445 529.5 L446 529.5 L446 530.1 L447 530.1 L447 530.6 L448 530.6 L448 530.0 L449 530.0 L449 529.3 L450 529.3 L450 528.6 L451 528.6 L451 528.0 L452 528.0 L452 527.2 L453 527.2 L453 526.4 L454 526.4 L454 520.9 L455 520.9 L455 515.5 L456 515.5 L456 510.0 L457 510.0 L457 507.3 L458 507.3 L458 504.7 L459 504.7 L459 502.0 L460 502.0 L460 498.7 L461 498.7 L461 495.3 L462 495.3 L462 492.0 L463 492.0 L463 490.3 L464 490.3 L464 488.5 L465 488.5 L465 486.8 L466 486.8 L466 486.2 L467 486.2 L467 485.6 L468 485.6 L468 485.0 L469 485.0 L469 485.2 L470 485.2 L470 485.5 L471 485.5 L471 485.8 L472 485.8 L472 486.0 L473 486.0 L473 486.9 L474 486.9 L474 487.7 L475 487.7 L475 488.5 L476 488.5 L476 489.4 L477 489.4 L477 490.9 L478 490.9 L478 492.4 L479 492.4 L479 493.8 L480 493.8 L480 495.3 L481 495.3 L481 496.3 L482 496.3 L482 497.3 L483 497.3 L483 498.3 L484 498.3 L484 499.3 L485 499.3 L485 500.3 L486 500.3 L486 500.8 L487 500.8 L487 501.3 L488 501.3 L488 501.8 L489 501.8 L489 502.3 L490 502.3 L490 502.8 L491 502.8 L491 502.9 L492 502.9 L492 503.0 L493 503.0 L493 503.1 L494 503.1 L494 503.1 L495 503.1 L495 503.2 L496 503.2 L496 503.3 L497 503.3 L497 503.4 L498 503.4 L498 503.4 L499 503.4 L499 503.5 L500 503.5 L500 503.6 L501 503.6 L501 503.6 L502 503.6 L502 503.7 L503 503.7 L503 505.3 L504 505.3 L504 506.9 L505 506.9 L505 508.4 L506 508.4 L506 510.0 L507 510.0 L507 511.1 L508 511.1 L508 512.3 L509 512.3 L509 513.4 L510 513.4 L510 513.7 L511 513.7 L511 514.0 L512 514.0 L512 514.3 L513 514.3 L513 514.6 L514 514.6 L514 514.0 L515 514.0 L515 513.3 L516 513.3 L516 512.6 L517 512.6 L517 512.0 L518 512.0 L518 511.5 L519 511.5 L519 511.0 L520 511.0 L520 510.5 L521 510.5 L521 510.0 L522 510.0 L522 509.7 L523 509.7 L523 509.4 L524 509.4 L524 509.0 L525 509.0 L525 508.7 L526 508.7 L526 509.1 L527 509.1 L527 509.6 L528 509.6 L528 510.0 L529 510.0 L529 506.4 L530 506.4 L530 502.8 L531 502.8 L531 501.4 L532 501.4 L532 500.0 L533 500.0 L533 498.6 L534 498.6 L534 497.7 L535 497.7 L535 496.9 L536 496.9 L536 496.0 L537 496.0 L537 496.0 L538 496.0 L538 496.0 L539 496.0 L539 496.0 L540 496.0 L540 496.0 L541 496.0 L541 496.4 L542 496.4 L542 496.7 L543 496.7 L543 497.1 L544 497.1 L544 497.4 L545 497.4 L545 497.8 L546 497.8 L546 498.3 L547 498.3 L547 498.8 L548 498.8 L548 499.3 L549 499.3 L549 499.8 L550 499.8 L550 500.3 L551 500.3 L551 498.6 L552 498.6 L552 497.0 L553 497.0 L553 495.3 L554 495.3 L554 494.9 L555 494.9 L555 494.4 L556 494.4 L556 494.0 L557 494.0 L557 494.1 L558 494.1 L558 494.2 L559 494.2 L559 494.2 L560 494.2 L560 494.3 L561 494.3 L561 494.4 L562 494.4 L562 494.6 L563 494.6 L563 494.8 L564 494.8 L564 494.9 L565 494.9 L565 495.1 L566 495.1 L566 495.3 L567 495.3 L567 495.4 L568 495.4 L568 495.6 L569 495.6 L569 495.7 L570 495.7 L570 495.9 L571 495.9 L571 496.0 L572 496.0 L572 494.7 L573 494.7 L573 493.3 L574 493.3 L574 492.0 L575 492.0 L575 490.8 L576 490.8 L576 489.7 L577 489.7 L577 488.5 L578 488.5 L578 487.4 L579 487.4 L579 486.3 L580 486.3 L580 485.2 L581 485.2 L581 484.7 L582 484.7 L582 484.3 L583 484.3 L583 483.8 L584 483.8 L584 484.1 L585 484.1 L585 484.5 L586 484.5 L586 484.9 L587 484.9 L587 485.2 L588 485.2 L588 485.8 L589 485.8 L589 486.4 L590 486.4 L590 487.1 L591 487.1 L591 487.7 L592 487.7 L592 489.2 L593 489.2 L593 490.6 L594 490.6 L594 492.1 L595 492.1 L595 493.6 L596 493.6 L596 494.9 L597 494.9 L597 496.1 L598 496.1 L598 497.4 L599 497.4 L599 498.6 L600 498.6 L600 499.0 L601 499.0 L601 499.3 L602 499.3 L602 499.6 L603 499.6 L603 500.0 L604 500.0 L604 500.1 L605 500.1 L605 500.1 L606 500.1 L606 500.2 L607 500.2 L607 500.2 L608 500.2 L608 500.3 L609 500.3 L609 500.6 L610 500.6 L610 501.0 L611 501.0 L611 501.3 L612 501.3 L612 501.7 L613 501.7 L613 502.0 L614 502.0 L614 502.3 L615 502.3 L615 502.7 L616 502.7 L616 503.0 L617 503.0 L617 503.4 L618 503.4 L618 503.7 L619 503.7 L619 503.5 L620 503.5 L620 503.2 L621 503.2 L621 503.0 L622 503.0 L622 502.8 L623 502.8 L623 502.0 L624 502.0 L624 501.1 L625 501.1 L625 500.3 L626 500.3 L626 499.5 L627 499.5 L627 499.4 L628 499.4 L628 499.3 L629 499.3 L629 499.2 L630 499.2 L630 499.1 L631 499.1 L631 499.0 L632 499.0 L632 499.1 L633 499.1 L633 499.2 L634 499.2 L634 499.3 L635 499.3 L635 499.4 L636 499.4 L636 499.5 L637 499.5 L637 499.8 L638 499.8 L638 500.1 L639 500.1 L639 500.4 L640 500.4 L640 500.7 L641 500.7 L641 501.0 L642 501.0 L642 501.7 L643 501.7 L643 502.4 L644 502.4 L644 503.1 L645 503.1 L645 503.8 L646 503.8 L646 504.5 L647 504.5 L647 505.2 L648 505.2 L648 505.9 L649 505.9 L649 506.5 L650 506.5 L650 507.2 L651 507.2 L651 507.9 L652 507.9 L652 508.1 L653 508.1 L653 508.3 L654 508.3 L654 508.6 L655 508.6 L655 508.8 L656 508.8 L656 509.0 L657 509.0 L657 509.0 L658 509.0 L658 509.0 L659 509.0 L659 509.0 L660 509.0 L660 509.0 L661 509.0 L661 509.0 L662 509.0 L662 509.0 L663 509.0 L663 509.0 L664 509.0 L664 509.0 L665 509.0 L665 509.0 L666 509.0 L666 509.0 L667 509.0 L667 509.0 L668 509.0 L668 509.0 L669 509.0 L669 509.3 L670 509.3 L670 509.6 L671 509.6 L671 509.8 L672 509.8 L672 510.1 L673 510.1 L673 510.4 L674 510.4 L674 510.2 L675 510.2 L675 510.0 L676 510.0 L676 509.7 L677 509.7 L677 509.5 L678 509.5 L678 509.3 L679 509.3 L679 509.1 L680 509.1 L680 508.8 L681 508.8 L681 508.6 L682 508.6 L682 508.4 L683 508.4 L683 508.5 L684 508.5 L684 508.6 L685 508.6 L685 508.7 L686 508.7 L686 508.8 L687 508.8 L687 508.9 L688 508.9 L688 509.0 L689 509.0 L689 508.8 L690 508.8 L690 508.6 L691 508.6 L691 508.3 L692 508.3 L692 508.1 L693 508.1 L693 507.9 L694 507.9 L694 508.6 L695 508.6 L695 509.3 L696 509.3 L696 510.0 L697 510.0 L697 512.1 L698 512.1 L698 514.2 L699 514.2 L699 516.3 L700 516.3 L700 517.5 L701 517.5 L701 518.8 L702 518.8 L702 518.5 L703 518.5 L703 518.3 L704 518.3 L704 518.0 L705 518.0 L705 517.1 L706 517.1 L706 516.3 L707 516.3 L707 515.5 L708 515.5 L708 514.6 L709 514.6 L709 513.8 L710 513.8 L710 512.9 L711 512.9 L711 512.0 L712 512.0 L712 511.2 L713 511.2 L713 510.8 L714 510.8 L714 510.4 L715 510.4 L715 510.0 L716 510.0 L716 508.5 L717 508.5 L717 506.9 L718 506.9 L718 505.4 L719 505.4 L719 503.7 L720 503.7 L720 502.0 L721 502.0 L721 500.3 L722 500.3 L722 499.5 L723 499.5 L723 498.6 L724 498.6 L724 497.8 L725 497.8 L725 497.0 L726 497.0 L726 496.6 L727 496.6 L727 496.1 L728 496.1 L728 495.7 L729 495.7 L729 495.3 L730 495.3 L730 495.5 L731 495.5 L731 495.6 L732 495.6 L732 495.8 L733 495.8 L733 496.0 L734 496.0 L734 496.2 L735 496.2 L735 496.4 L736 496.4 L736 496.6 L737 496.6 L737 496.8 L738 496.8 L738 497.0 L739 497.0 L739 496.8 L740 496.8 L740 496.5 L741 496.5 L741 496.2 L742 496.2 L742 496.0 L743 496.0 L743 496.9 L744 496.9 L744 497.7 L745 497.7 L745 498.6 L746 498.6 L746 499.2 L747 499.2 L747 499.8 L748 499.8 L748 500.4 L749 500.4 L749 501.0 L750 501.0 L750 501.9 L751 501.9 L751 502.8 L752 502.8 L752 503.6 L753 503.6 L753 504.5 L754 504.5 L754 504.8 L755 504.8 L755 505.2 L756 505.2 L756 505.5 L757 505.5 L757 505.9 L758 505.9 L758 506.2 L759 506.2 L759 506.5 L760 506.5 L760 506.9 L761 506.9 L761 507.2 L762 507.2 L762 507.6 L763 507.6 L763 507.9 L764 507.9 L764 508.3 L765 508.3 L765 508.7 L766 508.7 L766 509.2 L767 509.2 L767 509.6 L768 509.6 L768 510.0 L769 510.0 L769 509.8 L770 509.8 L770 509.6 L771 509.6 L771 509.4 L772 509.4 L772 509.2 L773 509.2 L773 509.0 L774 509.0 L774 508.7 L775 508.7 L775 508.4 L776 508.4 L776 508.0 L777 508.0 L777 507.7 L778 507.7 L778 507.4 L779 507.4 L779 507.3 L780 507.3 L780 507.2 L781 507.2 L781 507.2 L782 507.2 L782 507.1 L783 507.1 L783 507.0 L784 507.0 L784 507.1 L785 507.1 L785 507.2 L786 507.2 L786 507.2 L787 507.2 L787 507.3 L788 507.3 L788 507.4 L789 507.4 L789 508.3 L790 508.3 L790 509.1 L791 509.1 L791 510.0 L792 510.0 L792 512.1 L793 512.1 L793 514.2 L794 514.2 L794 516.3 L795 516.3 L795 516.9 L796 516.9 L796 517.4 L797 517.4 L797 518.0 L798 518.0 L798 517.7 L799 517.7 L799 517.3 L800 517.3 L800 517.0 L801 517.0 L801 515.7 L802 515.7 L802 514.3 L803 514.3 L803 513.0 L804 513.0 L804 512.0 L805 512.0 L805 511.0 L806 511.0 L806 510.0 L807 510.0 L807 509.1 L808 509.1 L808 508.1 L809 508.1 L809 507.1 L810 507.1 L810 506.2 L811 506.2 L811 505.1 L812 505.1 L812 504.1 L813 504.1 L813 503.1 L814 503.1 L814 502.0 L815 502.0 L815 500.6 L816 500.6 L816 499.2 L817 499.2 L817 497.8 L818 497.8 L818 498.9 L819 498.9 L819 499.9 L820 499.9 L820 501.0 L821 501.0 L821 501.4 L822 501.4 L822 501.9 L823 501.9 L823 502.4 L824 502.4 L824 502.8 L825 502.8 L825 503.4 L826 503.4 L826 504.1 L827 504.1 L827 504.8 L828 504.8 L828 505.4 L829 505.4 L829 505.3 L830 505.3 L830 505.2 L831 505.2 L831 505.1 L832 505.1 L832 505.0 L833 505.0 L833 504.9 L834 504.9 L834 504.8 L835 504.8 L835 504.6 L836 504.6 L836 504.5 L837 504.5 L837 505.6 L838 505.6 L838 506.8 L839 506.8 L839 507.9 L840 507.9 L840 509.5 L841 509.5 L841 511.2 L842 511.2 L842 510.8 L843 510.8 L843 510.4 L844 510.4 L844 510 Z" fill="#c0c0c0" shape-rendering="crispEdges"/>
<g shape-rendering="crispEdges"><path d="M6 492.5H1318M6 519.5H1318M6 546.5H1318" stroke="#ff0000" stroke-dasharray="3 3"/></g>
<g shape-rendering="crispEdges" fill="none"><path d="M5.5 492v2M6.5 490v2M7.5 488v2M8.5 486v2M9.5 487v1M10.5 488v11M11.5 499v12M12.5 509v1M13.5 508v1M14.5 507v1M15.5 506v1M16.5 506v1M17.5 505v1M18.5 505v1M19.5 503v2M20.5 501v2M21.5 500v1M22.5 498v2M23.5 496v2M24.5 495v2M25.5 497v4M26.5 501v5M27.5 506v5M28.5 502v6M29.5 498v5M30.5 503v8M31.5 511v5M32.5 513v2M33.5 511v2M34.5 511v1M35.5 510v1M36.5 510v1M37.5 510v1M38.5 510v1M39.5 511v1M40.5 511v1M41.5 511v1M42.5 510v1M43.5 510v3M44.5 513v5M45.5 518v3M46.5 518v2M47.5 516v3M48.5 519v3M49.5 513v6M50.5 506v7M51.5 497v9M52.5 492v5M53.5 494v3M54.5 497v2M55.5 495v2M56.5 493v2M57.5 493v1M58.5 493v1M59.5 493v1M60.5 493v1M61.5 493v1M62.5 493v1M63.5 493v1M64.5 493v1M65.5 493v1M66.5 493v2M67.5 495v4M68.5 499v4M69.5 503v4M70.5 507v3M71.5 507v2M72.5 506v3M73.5 509v6M74.5 514v4M75.5 506v8M76.5 501v5M77.5 501v1M78.5 500v1M79.5 500v1M80.5 499v1M81.5 498v1M82.5 498v1M83.5 497v1M84.5 496v1M85.5 495v1M86.5 495v1M87.5 494v1M88.5 495v2M89.5 497v2M90.5 499v3M91.5 502v5M92.5 507v5M93.5 512v3M94.5 515v1M95.5 515v1M96.5 516v2M97.5 518v3M98.5 519v4M99.5 511v8M100.5 506v10M101.5 516v12M102.5 528v3M103.5 531v4M104.5 535v2M105.5 537v2M106.5 539v1M107.5 538v1M108.5 537v1M109.5 537v1M110.5 536v1M111.5 536v1M112.5 536v1M113.5 536v1M114.5 536v1M115.5 537v2M116.5 539v1M117.5 540v2M118.5 542v1M119.5 540v2M120.5 538v2M121.5 536v2M122.5 538v2M123.5 540v3M124.5 543v3M125.5 546v2M126.5 548v2M127.5 548v1M128.5 546v2M129.5 545v1M130.5 541v4M131.5 535v6M132.5 531v4M133.5 533v2M134.5 535v2M135.5 535v1M136.5 534v1M137.5 533v1M138.5 532v1M139.5 531v1M140.5 531v1M141.5 530v1M142.5 529v1M143.5 527v2M144.5 526v3M145.5 529v5M146.5 526v11M147.5 515v11M148.5 517v4M149.5 521v3M150.5 521v2M151.5 519v2M152.5 518v1M153.5 518v1M154.5 519v1M155.5 519v1M156.5 519v1M157.5 520v1M158.5 520v1M159.5 520v1M160.5 520v1M161.5 520v1M162.5 521v2M163.5 523v2M164.5 524v3M165.5 519v5M166.5 514v5M167.5 511v3M168.5 513v4M169.5 517v4M170.5 520v3M171.5 514v6M172.5 510v4M173.5 514v6M174.5 519v5M175.5 514v5M176.5 517v4M177.5 521v5M178.5 526v3M179.5 528v1M180.5 527v1M181.5 527v1M182.5 528v1M183.5 529v1M184.5 530v1M185.5 531v1M186.5 532v1M187.5 533v1M188.5 534v1M189.5 533v1M190.5 532v1M191.5 531v1M192.5 530v2M193.5 532v2M194.5 534v3M195.5 537v2M196.5 539v1M197.5 540v1M198.5 541v2M199.5 543v3M200.5 545v3M201.5 540v5M202.5 537v3M203.5 536v1M204.5 535v1M205.5 534v1M206.5 533v1M207.5 532v1M208.5 532v1M209.5 531v1M210.5 531v2M211.5 533v2M212.5 533v4M213.5 526v7M214.5 522v4M215.5 525v6M216.5 531v4M217.5 524v7M218.5 517v7M219.5 510v7M220.5 504v6M221.5 501v5M222.5 506v10M223.5 516v5M224.5 521v2M225.5 523v2M226.5 520v3M227.5 518v2M228.5 516v2M229.5 515v1M230.5 515v1M231.5 514v1M232.5 514v1M233.5 515v2M234.5 517v1M235.5 515v2M236.5 513v2M237.5 512v1M238.5 510v2M239.5 508v2M240.5 506v3M241.5 508v4M242.5 502v6M243.5 497v5M244.5 493v4M245.5 491v4M246.5 495v6M247.5 501v4M248.5 503v1M249.5 503v1M250.5 502v1M251.5 501v1M252.5 500v1M253.5 499v1M254.5 499v1M255.5 500v1M256.5 500v1M257.5 500v1M258.5 500v3M259.5 503v6M260.5 509v3M261.5 508v2M262.5 506v2M263.5 505v1M264.5 504v6M265.5 510v11M266.5 521v6M267.5 522v3M268.5 520v2M269.5 520v1M270.5 520v1M271.5 520v1M272.5 521v1M273.5 522v2M274.5 524v1M275.5 525v2M276.5 527v2M277.5 528v2M278.5 526v2M279.5 524v2M280.5 522v2M281.5 520v2M282.5 518v2M283.5 516v2M284.5 515v1M285.5 515v1M286.5 514v3M287.5 517v5M288.5 515v10M289.5 504v11M290.5 507v5M291.5 512v6M292.5 518v3M293.5 513v5M294.5 510v3M295.5 512v4M296.5 516v4M297.5 520v2M298.5 521v1M299.5 520v1M300.5 519v2M301.5 517v2M302.5 515v2M303.5 513v2M304.5 510v3M305.5 508v2M306.5 505v3M307.5 503v2M308.5 501v2M309.5 500v4M310.5 504v7M311.5 511v5M312.5 516v2M313.5 516v4M314.5 510v6M315.5 505v5M316.5 503v2M317.5 501v2M318.5 499v5M319.5 504v10M320.5 514v5M321.5 517v1M322.5 517v1M323.5 516v1M324.5 515v1M325.5 515v1M326.5 514v1M327.5 513v1M328.5 513v1M329.5 512v4M330.5 516v6M331.5 522v4M332.5 521v3M333.5 518v3M334.5 516v2M335.5 516v1M336.5 516v6M337.5 522v10M338.5 532v6M339.5 538v1M340.5 539v1M341.5 540v2M342.5 541v3M343.5 536v5M344.5 533v3M345.5 534v1M346.5 534v1M347.5 535v1M348.5 536v1M349.5 536v1M350.5 537v1M351.5 537v1M352.5 536v1M353.5 536v1M354.5 536v1M355.5 535v1M356.5 534v1M357.5 535v1M358.5 535v1M359.5 536v2M360.5 538v2M361.5 540v3M362.5 543v3M363.5 546v2M364.5 544v2M365.5 540v4M366.5 534v6M367.5 531v3M368.5 532v2M369.5 534v2M370.5 536v1M371.5 535v1M372.5 534v1M373.5 533v2M374.5 535v2M375.5 537v2M376.5 539v2M377.5 541v2M378.5 543v1M379.5 544v2M380.5 546v1M381.5 547v2M382.5 549v2M383.5 549v4M384.5 542v7M385.5 535v7M386.5 531v4M387.5 532v2M388.5 534v2M389.5 532v2M390.5 530v2M391.5 528v2M392.5 526v2M393.5 524v2M394.5 522v2M395.5 521v1M396.5 520v1M397.5 520v1M398.5 519v1M399.5 518v1M400.5 517v3M401.5 520v4M402.5 524v4M403.5 528v3M404.5 525v4M405.5 522v3M406.5 523v1M407.5 523v2M408.5 519v4M409.5 515v4M410.5 513v2M411.5 512v1M412.5 511v1M413.5 510v4M414.5 514v7M415.5 521v4M416.5 525v1M417.5 525v2M418.5 523v2M419.5 520v3M420.5 517v3M421.5 515v2M422.5 512v3M423.5 510v2M424.5 511v2M425.5 513v2M426.5 515v1M427.5 513v2M428.5 511v2M429.5 510v1M430.5 509v1M431.5 508v1M432.5 507v1M433.5 506v2M434.5 508v3M435.5 511v6M436.5 517v10M437.5 527v6M438.5 533v2M439.5 535v2M440.5 536v1M441.5 535v1M442.5 535v1M443.5 534v1M444.5 532v2M445.5 531v1M446.5 531v1M447.5 530v1M448.5 530v1M449.5 531v1M450.5 532v1M451.5 531v1M452.5 530v1M453.5 527v3M454.5 523v4M455.5 517v6M456.5 509v8M457.5 504v5M458.5 505v1M459.5 505v2M460.5 502v3M461.5 500v2M462.5 500v1M463.5 500v1M464.5 500v1M465.5 501v2M466.5 503v2M467.5 502v2M468.5 501v2M469.5 503v2M470.5 505v3M471.5 508v2M472.5 507v2M473.5 505v2M474.5 504v1M475.5 505v2M476.5 507v2M477.5 509v2M478.5 511v4M479.5 515v4M480.5 519v2M481.5 515v4M482.5 512v3M483.5 513v1M484.5 514v2M485.5 516v1M486.5 515v1M487.5 514v1M488.5 513v1M489.5 514v1M490.5 515v1M491.5 516v1M492.5 515v1M493.5 513v2M494.5 512v1M495.5 513v1M496.5 514v1M497.5 515v1M498.5 513v2M499.5 511v2M500.5 510v1M501.5 509v6M502.5 515v11M503.5 525v7M504.5 517v8M505.5 520v5M506.5 525v3M507.5 526v1M508.5 525v1M509.5 524v1M510.5 523v1M511.5 522v1M512.5 522v1M513.5 521v1M514.5 520v1M515.5 520v1M516.5 519v1M517.5 519v1M518.5 517v2M519.5 515v2M520.5 513v2M521.5 512v2M522.5 514v4M523.5 518v7M524.5 525v7M525.5 522v6M526.5 516v6M527.5 511v5M528.5 507v4M529.5 505v2M530.5 506v1M531.5 506v1M532.5 505v1M533.5 504v1M534.5 503v1M535.5 503v1M536.5 504v1M537.5 504v1M538.5 504v1M539.5 504v1M540.5 505v1M541.5 505v1M542.5 504v1M543.5 502v2M544.5 501v1M545.5 502v1M546.5 503v1M547.5 504v2M548.5 506v4M549.5 510v2M550.5 507v3M551.5 504v3M552.5 501v3M553.5 497v4M554.5 494v3M555.5 492v2M556.5 491v3M557.5 494v6M558.5 500v3M559.5 501v1M560.5 500v1M561.5 501v1M562.5 502v2M563.5 504v1M564.5 503v1M565.5 502v1M566.5 501v1M567.5 501v1M568.5 500v1M569.5 500v2M570.5 502v3M571.5 505v3M572.5 506v5M573.5 496v10M574.5 491v5M575.5 491v1M576.5 490v1M577.5 490v1M578.5 489v1M579.5 488v1M580.5 488v1M581.5 487v1M582.5 488v1M583.5 488v1M584.5 489v1M585.5 488v1M586.5 488v1M587.5 487v1M588.5 487v1M589.5 488v1M590.5 488v1M591.5 488v1M592.5 489v2M593.5 491v4M594.5 495v4M595.5 499v4M596.5 503v7M597.5 510v10M598.5 520v5M599.5 516v6M600.5 510v6M601.5 504v6M602.5 501v3M603.5 501v1M604.5 501v1M605.5 501v2M606.5 503v3M607.5 506v2M608.5 506v1M609.5 505v1M610.5 504v2M611.5 506v2M612.5 508v3M613.5 511v3M614.5 514v4M615.5 518v2M616.5 515v3M617.5 512v3M618.5 510v2M619.5 512v3M620.5 515v2M621.5 511v4M622.5 504v7M623.5 497v7M624.5 499v4M625.5 503v3M626.5 506v1M627.5 507v1M628.5 508v1M629.5 508v1M630.5 507v1M631.5 507v1M632.5 507v1M633.5 507v1M634.5 506v1M635.5 506v1M636.5 506v1M637.5 507v2M638.5 509v2M639.5 506v3M640.5 504v2M641.5 506v4M642.5 510v3M643.5 513v1M644.5 514v1M645.5 515v1M646.5 516v1M647.5 517v2M648.5 519v1M649.5 520v1M650.5 521v1M651.5 522v1M652.5 521v1M653.5 521v1M654.5 520v1M655.5 518v2M656.5 516v2M657.5 514v2M658.5 513v1M659.5 511v2M660.5 510v1M661.5 511v1M662.5 511v1M663.5 512v1M664.5 513v2M665.5 515v1M666.5 513v2M667.5 511v2M668.5 510v1M669.5 510v1M670.5 510v10M671.5 520v11M672.5 529v4M673.5 523v6M674.5 519v4M675.5 518v1M676.5 516v2M677.5 514v2M678.5 512v2M679.5 512v1M680.5 513v1M681.5 513v2M682.5 515v4M683.5 519v4M684.5 523v2M685.5 522v2M686.5 520v2M687.5 517v3M688.5 513v4M689.5 510v3M690.5 511v1M691.5 512v1M692.5 511v1M693.5 510v4M694.5 514v8M695.5 522v8M696.5 530v8M697.5 538v6M698.5 543v5M699.5 534v9M700.5 529v5M701.5 527v2M702.5 525v2M703.5 524v1M704.5 523v1M705.5 522v1M706.5 521v1M707.5 520v1M708.5 519v1M709.5 517v2M710.5 516v1M711.5 515v1M712.5 513v2M713.5 511v2M714.5 510v1M715.5 508v2M716.5 506v2M717.5 503v3M718.5 498v5M719.5 495v3M720.5 498v6M721.5 504v4M722.5 502v4M723.5 500v2M724.5 498v2M725.5 496v2M726.5 497v1M727.5 498v2M728.5 500v1M729.5 501v1M730.5 502v2M731.5 504v1M732.5 503v1M733.5 503v1M734.5 502v1M735.5 502v1M736.5 501v1M737.5 501v1M738.5 500v1M739.5 499v1M740.5 497v2M741.5 493v4M742.5 490v10M743.5 500v13M744.5 513v4M745.5 517v3M746.5 513v4M747.5 514v2M748.5 516v2M749.5 517v1M750.5 516v1M751.5 516v1M752.5 517v1M753.5 518v1M754.5 517v1M755.5 516v1M756.5 516v1M757.5 515v1M758.5 514v1M759.5 512v2M760.5 511v3M761.5 514v4M762.5 518v4M763.5 522v3M764.5 525v2M765.5 521v4M766.5 519v2M767.5 521v3M768.5 518v4M769.5 516v2M770.5 515v1M771.5 515v1M772.5 514v1M773.5 514v1M774.5 515v2M775.5 517v1M776.5 516v1M777.5 515v1M778.5 514v1M779.5 513v1M780.5 512v1M781.5 511v1M782.5 510v1M783.5 511v2M784.5 513v2M785.5 515v2M786.5 517v2M787.5 518v3M788.5 513v5M789.5 510v3M790.5 513v5M791.5 518v9M792.5 527v13M793.5 540v7M794.5 532v10M795.5 526v6M796.5 524v2M797.5 522v2M798.5 524v3M799.5 524v2M800.5 522v2M801.5 520v2M802.5 518v2M803.5 517v1M804.5 516v1M805.5 515v1M806.5 514v1M807.5 513v1M808.5 512v1M809.5 510v2M810.5 508v2M811.5 506v2M812.5 504v5M813.5 509v8M814.5 514v8M815.5 505v9M816.5 502v3M817.5 500v8M818.5 508v9M819.5 516v1M820.5 515v1M821.5 515v1M822.5 516v2M823.5 518v2M824.5 518v1M825.5 517v1M826.5 516v1M827.5 516v1M828.5 516v1M829.5 516v1M830.5 514v2M831.5 512v2M832.5 511v1M833.5 510v1M834.5 509v2M835.5 511v2M836.5 513v2M837.5 515v3M838.5 518v4M839.5 522v4M840.5 526v3M841.5 529v1M842.5 522v8M843.5 514v8" stroke="#1e90ff"/>
<path d="M5.5 504v1M6.5 503v1M7.5 502v1M8.5 501v1M9.5 500v1M10.5 499v1M11.5 499v1M12.5 498v1M13.5 498v1M14.5 497v1M15.5 497v1M16.5 497v1M17.5 497v1M18.5 497v1M19.5 497v1M20.5 497v1M21.5 497v1M22.5 497v1M23.5 497v1M24.5 498v1M25.5 498v1M26.5 498v1M27.5 498v1M28.5 498v1M29.5 498v1M30.5 498v1M31.5 499v1M32.5 499v1M33.5 499v1M34.5 499v1M35.5 499v1M36.5 499v1M37.5 500v1M38.5 500v1M39.5 500v1M40.5 500v1M41.5 501v1M42.5 501v1M43.5 501v1M44.5 502v1M45.5 502v1M46.5 503v1M47.5 503v1M48.5 503v1M49.5 504v1M50.5 504v1M51.5 503v1M52.5 502v1M53.5 501v1M54.5 499v2M55.5 497v2M56.5 494v3M57.5 492v2M58.5 490v2M59.5 488v2M60.5 486v2M61.5 485v1M62.5 484v1M63.5 484v1M64.5 483v1M65.5 483v1M66.5 484v1M67.5 484v1M68.5 484v1M69.5 485v1M70.5 486v1M71.5 487v1M72.5 488v1M73.5 489v1M74.5 490v1M75.5 491v1M76.5 492v1M77.5 492v1M78.5 493v1M79.5 493v1M80.5 492v1M81.5 492v1M82.5 491v1M83.5 491v1M84.5 490v1M85.5 490v1M86.5 490v1M87.5 489v1M88.5 489v1M89.5 489v1M90.5 489v1M91.5 490v1M92.5 490v1M93.5 490v1M94.5 491v1M95.5 492v1M96.5 492v1M97.5 493v1M98.5 494v1M99.5 495v2M100.5 497v2M101.5 499v2M102.5 501v3M103.5 504v2M104.5 506v3M105.5 509v2M106.5 511v3M107.5 514v2M108.5 516v3M109.5 519v2M110.5 521v2M111.5 523v2M112.5 525v1M113.5 526v2M114.5 528v1M115.5 528v1M116.5 528v1M117.5 529v1M118.5 529v1M119.5 529v1M120.5 529v1M121.5 529v1M122.5 529v1M123.5 529v1M124.5 529v1M125.5 529v1M126.5 530v1M127.5 530v1M128.5 531v1M129.5 531v1M130.5 532v1M131.5 532v1M132.5 533v1M133.5 533v1M134.5 532v1M135.5 532v1M136.5 531v1M137.5 530v1M138.5 529v1M139.5 529v1M140.5 528v1M141.5 527v1M142.5 526v1M143.5 525v1M144.5 524v1M145.5 523v1M146.5 522v1M147.5 521v1M148.5 520v1M149.5 519v1M150.5 518v1M151.5 517v1M152.5 516v1M153.5 516v1M154.5 515v1M155.5 514v1M156.5 514v1M157.5 513v1M158.5 513v1M159.5 512v1M160.5 512v1M161.5 512v1M162.5 512v1M163.5 511v1M164.5 511v1M165.5 511v1M166.5 511v1M167.5 511v1M168.5 510v1M169.5 510v1M170.5 510v1M171.5 510v1M172.5 510v1M173.5 509v1M174.5 509v1M175.5 509v1M176.5 509v1M177.5 510v1M178.5 510v1M179.5 511v1M180.5 511v1M181.5 512v1M182.5 513v1M183.5 514v1M184.5 514v1M185.5 515v1M186.5 516v1M187.5 517v1M188.5 517v1M189.5 518v1M190.5 518v1M191.5 519v1M192.5 519v1M193.5 520v1M194.5 520v1M195.5 521v1M196.5 521v1M197.5 522v1M198.5 522v1M199.5 523v1M200.5 523v1M201.5 524v1M202.5 524v1M203.5 525v1M204.5 525v1M205.5 525v1M206.5 525v1M207.5 525v1M208.5 525v1M209.5 525v1M210.5 524v1M211.5 524v1M212.5 524v1M213.5 523v1M214.5 522v1M215.5 521v1M216.5 520v1M217.5 519v1M218.5 518v1M219.5 518v1M220.5 517v1M221.5 516v1M222.5 515v1M223.5 514v1M224.5 513v1M225.5 512v1M226.5 511v1M227.5 510v1M228.5 509v1M229.5 509v1M230.5 508v1M231.5 508v1M232.5 509v1M233.5 509v1M234.5 509v1M235.5 509v1M236.5 508v1M237.5 508v1M238.5 507v1M239.5 507v1M240.5 506v1M241.5 505v1M242.5 504v1M243.5 502v2M244.5 500v2M245.5 498v2M246.5 496v2M247.5 494v2M248.5 492v2M249.5 491v1M250.5 489v2M251.5 488v1M252.5 487v1M253.5 486v1M254.5 485v1M255.5 485v1M256.5 485v1M257.5 486v1M258.5 486v1M259.5 486v1M260.5 487v1M261.5 487v1M262.5 488v1M263.5 488v1M264.5 489v2M265.5 491v2M266.5 493v1M267.5 494v2M268.5 496v2M269.5 498v2M270.5 500v1M271.5 501v1M272.5 502v1M273.5 503v1M274.5 504v1M275.5 505v1M276.5 506v1M277.5 507v2M278.5 509v1M279.5 510v1M280.5 511v1M281.5 512v1M282.5 512v1M283.5 513v1M284.5 513v1M285.5 512v1M286.5 512v1M287.5 512v1M288.5 511v1M289.5 511v1M290.5 510v1M291.5 510v1M292.5 509v1M293.5 509v1M294.5 508v1M295.5 508v1M296.5 507v1M297.5 507v1M298.5 507v1M299.5 507v1M300.5 507v1M301.5 507v1M302.5 507v1M303.5 507v1M304.5 507v1M305.5 507v1M306.5 506v1M307.5 505v1M308.5 505v1M309.5 504v1M310.5 503v1M311.5 502v1M312.5 501v1M313.5 500v1M314.5 500v1M315.5 499v1M316.5 499v1M317.5 499v1M318.5 498v1M319.5 498v1M320.5 497v1M321.5 497v1M322.5 497v1M323.5 497v1M324.5 497v1M325.5 497v1M326.5 498v1M327.5 499v1M328.5 499v1M329.5 500v1M330.5 501v1M331.5 502v1M332.5 503v1M333.5 504v1M334.5 505v1M335.5 505v1M336.5 506v1M337.5 506v1M338.5 507v1M339.5 508v2M340.5 510v2M341.5 512v3M342.5 515v3M343.5 518v3M344.5 521v3M345.5 524v4M346.5 528v2M347.5 530v2M348.5 532v2M349.5 534v2M350.5 536v1M351.5 536v1M352.5 537v1M353.5 537v1M354.5 537v1M355.5 537v1M356.5 536v1M357.5 536v1M358.5 536v1M359.5 536v1M360.5 536v1M361.5 536v1M362.5 536v1M363.5 537v1M364.5 538v2M365.5 540v1M366.5 541v1M367.5 542v2M368.5 544v1M369.5 545v1M370.5 545v1M371.5 546v1M372.5 546v1M373.5 546v1M374.5 546v1M375.5 546v1M376.5 545v1M377.5 545v1M378.5 544v1M379.5 545v1M380.5 545v1M381.5 546v1M382.5 547v2M383.5 549v2M384.5 551v1M385.5 552v1M386.5 553v1M387.5 554v1M388.5 555v1M389.5 556v1M390.5 557v1M391.5 556v1M392.5 554v2M393.5 553v1M394.5 551v2M395.5 549v2M396.5 546v3M397.5 542v4M398.5 538v4M399.5 535v3M400.5 533v2M401.5 530v3M402.5 528v2M403.5 526v2M404.5 525v1M405.5 523v2M406.5 522v1M407.5 521v1M408.5 520v1M409.5 519v1M410.5 518v1M411.5 516v2M412.5 515v1M413.5 513v2M414.5 512v1M415.5 511v1M416.5 510v1M417.5 510v1M418.5 509v1M419.5 509v1M420.5 510v1M421.5 510v1M422.5 510v1M423.5 509v1M424.5 508v1M425.5 507v1M426.5 506v1M427.5 505v1M428.5 504v1M429.5 503v1M430.5 502v1M431.5 501v1M432.5 501v1M433.5 500v1M434.5 500v1M435.5 500v1M436.5 500v1M437.5 501v1M438.5 502v2M439.5 504v2M440.5 506v4M441.5 510v4M442.5 514v2M443.5 516v3M444.5 519v3M445.5 522v2M446.5 524v3M447.5 527v2M448.5 528v1M449.5 529v1M450.5 529v1M451.5 529v1M452.5 528v1M453.5 527v1M454.5 526v1M455.5 524v2M456.5 522v2M457.5 520v2M458.5 517v3M459.5 513v4M460.5 510v3M461.5 506v4M462.5 502v4M463.5 499v3M464.5 497v2M465.5 494v3M466.5 492v2M467.5 491v1M468.5 489v2M469.5 488v1M470.5 487v1M471.5 487v1M472.5 486v1M473.5 487v1M474.5 487v1M475.5 488v1M476.5 488v1M477.5 489v1M478.5 490v1M479.5 490v1M480.5 491v1M481.5 492v1M482.5 493v1M483.5 494v2M484.5 496v1M485.5 497v1M486.5 498v1M487.5 499v1M488.5 499v1M489.5 500v1M490.5 501v1M491.5 501v1M492.5 502v1M493.5 502v1M494.5 503v1M495.5 503v1M496.5 503v1M497.5 503v1M498.5 504v1M499.5 504v1M500.5 504v1M501.5 504v1M502.5 505v1M503.5 505v1M504.5 505v1M505.5 506v1M506.5 507v1M507.5 507v1M508.5 508v1M509.5 509v1M510.5 510v1M511.5 511v1M512.5 512v1M513.5 512v1M514.5 513v1M515.5 513v1M516.5 513v1M517.5 513v1M518.5 513v1M519.5 513v1M520.5 513v1M521.5 512v1M522.5 512v1M523.5 511v1M524.5 511v1M525.5 511v1M526.5 510v1M527.5 510v1M528.5 510v1M529.5 509v1M530.5 507v2M531.5 506v1M532.5 505v1M533.5 503v2M534.5 502v1M535.5 501v1M536.5 500v1M537.5 499v1M538.5 498v1M539.5 498v1M540.5 497v1M541.5 497v1M542.5 497v1M543.5 497v1M544.5 497v1M545.5 497v1M546.5 497v1M547.5 498v1M548.5 498v1M549.5 498v1M550.5 499v1M551.5 499v1M552.5 500v1M553.5 500v1M554.5 499v1M555.5 499v1M556.5 498v1M557.5 497v1M558.5 497v1M559.5 496v1M560.5 496v1M561.5 496v1M562.5 495v1M563.5 495v1M564.5 495v1M565.5 495v1M566.5 495v1M567.5 496v1M568.5 496v1M569.5 496v1M570.5 496v1M571.5 496v1M572.5 496v1M573.5 496v1M574.5 495v1M575.5 495v1M576.5 494v1M577.5 494v1M578.5 493v1M579.5 491v2M580.5 490v1M581.5 489v1M582.5 488v1M583.5 488v1M584.5 487v1M585.5 487v1M586.5 486v1M587.5 486v1M588.5 486v1M589.5 486v1M590.5 486v1M591.5 486v1M592.5 487v1M593.5 487v1M594.5 488v1M595.5 488v1M596.5 489v1M597.5 490v2M598.5 492v1M599.5 493v1M600.5 494v2M601.5 496v1M602.5 497v1M603.5 498v1M604.5 498v1M605.5 499v1M606.5 499v1M607.5 500v1M608.5 500v1M609.5 500v1M610.5 500v1M611.5 500v1M612.5 500v1M613.5 500v1M614.5 500v1M615.5 501v1M616.5 501v1M617.5 502v1M618.5 502v1M619.5 503v1M620.5 503v1M621.5 504v1M622.5 504v1M623.5 504v1M624.5 503v1M625.5 503v1M626.5 503v1M627.5 502v1M628.5 502v1M629.5 501v1M630.5 501v1M631.5 501v1M632.5 501v1M633.5 500v1M634.5 500v1M635.5 500v1M636.5 500v1M637.5 500v1M638.5 500v1M639.5 500v1M640.5 500v1M641.5 500v1M642.5 501v1M643.5 501v1M644.5 502v1M645.5 502v1M646.5 503v1M647.5 503v1M648.5 504v1M649.5 504v1M650.5 505v1M651.5 506v1M652.5 506v1M653.5 507v1M654.5 507v1M655.5 508v1M656.5 508v1M657.5 508v1M658.5 509v1M659.5 509v1M660.5 509v1M661.5 509v1M662.5 509v1M663.5 509v1M664.5 509v1M665.5 509v1M666.5 509v1M667.5 509v1M668.5 509v1M669.5 509v1M670.5 509v1M671.5 509v1M672.5 509v1M673.5 510v1M674.5 510v1M675.5 510v1M676.5 510v1M677.5 510v1M678.5 510v1M679.5 510v1M680.5 510v1M681.5 510v1M682.5 510v1M683.5 510v1M684.5 510v1M685.5 510v1M686.5 510v1M687.5 509v1M688.5 509v1M689.5 509v1M690.5 509v1M691.5 509v1M692.5 509v1M693.5 509v1M694.5 509v1M695.5 509v1M696.5 509v1M697.5 510v1M698.5 510v1M699.5 511v1M700.5 512v1M701.5 513v1M702.5 514v1M703.5 515v1M704.5 516v1M705.5 517v1M706.5 518v1M707.5 517v1M708.5 517v1M709.5 516v1M710.5 515v1M711.5 514v1M712.5 514v1M713.5 513v1M714.5 512v1M715.5 511v1M716.5 511v1M717.5 510v1M718.5 509v1M719.5 507v2M720.5 506v1M721.5 505v1M722.5 504v1M723.5 503v1M724.5 503v1M725.5 502v1M726.5 501v1M727.5 500v1M728.5 499v1M729.5 498v1M730.5 497v1M731.5 497v1M732.5 496v1M733.5 496v1M734.5 496v1M735.5 497v1M736.5 497v1M737.5 497v1M738.5 497v1M739.5 498v1M740.5 498v1M741.5 498v1M742.5 498v1M743.5 499v1M744.5 499v1M745.5 499v1M746.5 499v1M747.5 500v1M748.5 500v1M749.5 500v1M750.5 501v1M751.5 502v1M752.5 502v1M753.5 503v1M754.5 503v1M755.5 504v1M756.5 504v1M757.5 505v1M758.5 505v1M759.5 505v1M760.5 506v1M761.5 506v1M762.5 507v1M763.5 507v1M764.5 507v1M765.5 507v1M766.5 508v1M767.5 508v1M768.5 508v1M769.5 508v1M770.5 508v1M771.5 509v1M772.5 509v1M773.5 509v1M774.5 509v1M775.5 509v1M776.5 508v1M777.5 508v1M778.5 508v1M779.5 508v1M780.5 508v1M781.5 508v1M782.5 508v1M783.5 508v1M784.5 508v1M785.5 508v1M786.5 507v1M787.5 507v1M788.5 507v1M789.5 507v1M790.5 508v1M791.5 508v1M792.5 509v1M793.5 510v1M794.5 510v1M795.5 511v1M796.5 512v1M797.5 513v2M798.5 515v1M799.5 516v1M800.5 517v1M801.5 518v1M802.5 517v1M803.5 517v1M804.5 516v1M805.5 515v1M806.5 513v2M807.5 512v1M808.5 511v1M809.5 510v1M810.5 509v1M811.5 508v1M812.5 507v1M813.5 507v1M814.5 506v1M815.5 506v1M816.5 505v1M817.5 504v1M818.5 503v1M819.5 502v1M820.5 502v1M821.5 501v1M822.5 501v1M823.5 502v1M824.5 502v1M825.5 502v1M826.5 503v1M827.5 503v1M828.5 504v1M829.5 504v1M830.5 505v1M831.5 505v1M832.5 505v1M833.5 505v1M834.5 505v1M835.5 505v1M836.5 505v1M837.5 505v1M838.5 505v1M839.5 505v1M840.5 506v1M841.5 506v1M842.5 507v1M843.5 508v1" stroke="#ff0000"/></g>
<path d="M5 559.5V565H10.5Z" fill="#c0c0c0"/>
</g>
<!-- frames -->
<g shape-rendering="crispEdges" fill="#000">
<rect x="4" y="4" width="1315" height="1"/>
<rect x="4" y="4" width="1" height="467"/>
<rect x="4" y="470" width="1315" height="1"/>
<rect x="4" y="472" width="1315" height="1"/>
<rect x="4" y="472" width="1" height="94"/>
<rect x="4" y="565" width="1315" height="1"/>
<rect x="1318" y="4" width="1" height="562"/>
<rect x="1317" y="4" width="3" height="60"/>
</g>
<!-- small texts -->
<g class="sm" shape-rendering="crispEdges">
<path d="M8 11H15.6L11.8 15.2Z" fill="#000" shape-rendering="auto"/>
<text x="20" y="16" textLength="48.5" lengthAdjust="spacingAndGlyphs">US30(€),H1</text>
<text x="9.6" y="485" textLength="112" lengthAdjust="spacingAndGlyphs">MACD(12,26,9) 2.42 14.39</text>
<path d="M1319 38.5H1321" stroke="#000"/>
<text x="1324" y="41.8">42539.7</text>
<path d="M1319 71.5H1321" stroke="#000"/>
<text x="1324" y="74.8">42308.7</text>
<path d="M1319 104.5H1321" stroke="#000"/>
<text x="1324" y="107.8">42070.7</text>
<path d="M1319 137.5H1321" stroke="#000"/>
<text x="1324" y="140.8">41839.7</text>
<path d="M1319 170.5H1321" stroke="#000"/>
<text x="1324" y="173.8">41601.7</text>
<path d="M1319 203.5H1321" stroke="#000"/>
<text x="1324" y="206.8">41370.7</text>
<path d="M1319 236.5H1321" stroke="#000"/>
<text x="1324" y="239.8">41132.7</text>
<path d="M1319 269.5H1321" stroke="#000"/>
<text x="1324" y="272.8">40901.7</text>
<path d="M1319 302.5H1321" stroke="#000"/>
<text x="1324" y="305.8">40670.7</text>
<path d="M1319 335.5H1321" stroke="#000"/>
<text x="1324" y="338.8">40432.7</text>
<path d="M1319 368.5H1321" stroke="#000"/>
<text x="1324" y="371.8">40201.7</text>
<path d="M1319 401.5H1321" stroke="#000"/>
<text x="1324" y="404.8">39963.7</text>
<path d="M1319 434.5H1321" stroke="#000"/>
<text x="1324" y="437.8">39732.7</text>
<path d="M1319 467.5H1321" stroke="#000"/>
<text x="1324" y="470.8">39501.7</text>
<text x="1322" y="483.1">230.55</text>
<text x="1322" y="496.2">80</text>
<text x="1322" y="513.8">0.00</text>
<text x="1322" y="523.4">50</text>
<text x="1322" y="550.4">20</text>
<text x="1322" y="561.4">-345.95</text>
<path d="M5.5 566V569" stroke="#000"/>
<text x="4.7" y="577.6">12 Jul 2024</text>
<path d="M69.5 566V569" stroke="#000"/>
<text x="68.7" y="577.6">17 Jul 08:00</text>
<path d="M133.5 566V569" stroke="#000"/>
<text x="132.7" y="577.6">22 Jul 01:00</text>
<path d="M197.5 566V569" stroke="#000"/>
<text x="196.7" y="577.6">24 Jul 17:00</text>
<path d="M261.5 566V569" stroke="#000"/>
<text x="260.7" y="577.6">29 Jul 10:00</text>
<path d="M325.5 566V569" stroke="#000"/>
<text x="324.7" y="577.6">1 Aug 02:00</text>
<path d="M389.5 566V569" stroke="#000"/>
<text x="388.7" y="577.6">5 Aug 19:00</text>
<path d="M453.5 566V569" stroke="#000"/>
<text x="452.7" y="577.6">8 Aug 11:00</text>
<path d="M517.5 566V569" stroke="#000"/>
<text x="516.7" y="577.6">13 Aug 04:00</text>
<path d="M581.5 566V569" stroke="#000"/>
<text x="580.7" y="577.6">15 Aug 20:00</text>
<path d="M645.5 566V569" stroke="#000"/>
<text x="644.7" y="577.6">20 Aug 13:00</text>
<path d="M709.5 566V569" stroke="#000"/>
<text x="708.7" y="577.6">23 Aug 05:00</text>
<path d="M773.5 566V569" stroke="#000"/>
<text x="772.7" y="577.6">27 Aug 22:00</text>
<path d="M837.5 566V569" stroke="#000"/>
<text x="836.7" y="577.6">30 Aug 14:00</text>
<rect x="1320" y="190" width="41" height="11" fill="#000"/>
<text x="1324" y="198.6" style="fill:#fff;stroke:#fff">41426.0</text>
<rect x="1320" y="194" width="41" height="11" fill="#ff0000"/>
<text x="1324" y="202.8" style="fill:#fff;stroke:#fff">41389.0</text>
<rect x="1320" y="272" width="41" height="11" fill="#ff0000"/>
<text x="1324" y="280.8" style="fill:#fff;stroke:#fff">40839.0</text>
</g>
</svg>
</body></html>
